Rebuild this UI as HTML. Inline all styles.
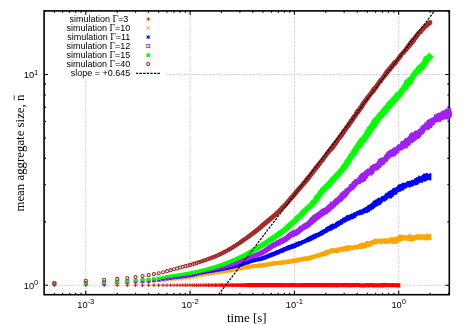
<!DOCTYPE html>
<html><head><meta charset="utf-8"><title>mean aggregate size</title>
<style>
html,body{margin:0;padding:0;background:#fff;}
body{width:463px;height:324px;overflow:hidden;}
svg{display:block;will-change:transform;}
.s{font-family:"Liberation Sans",sans-serif;font-size:9px;fill:#000;}
.g{font-family:"Liberation Serif",serif;font-size:9.5px;}
.t{font-family:"Liberation Serif",serif;font-size:12.85px;fill:#000;}
</style></head><body>
<svg width="463" height="324" viewBox="0 0 463 324">
<rect width="463" height="324" fill="#fff"/>
<path d="M85.80 10.90V294.70M190.10 10.90V294.70M294.40 10.90V294.70M398.70 10.90V294.70M44.10 285.30H449.30M44.10 74.50H449.30" stroke="#b0b0b0" stroke-width="0.9" stroke-dasharray="1 1.5" fill="none"/>
<rect x="45" y="13" width="121" height="65" fill="#fff"/>
<path d="M54.40 294.70v-1.9M54.40 10.90v1.9M62.66 294.70v-1.9M62.66 10.90v1.9M69.64 294.70v-1.9M69.64 10.90v1.9M75.69 294.70v-1.9M75.69 10.90v1.9M81.03 294.70v-1.9M81.03 10.90v1.9M85.80 294.70v-3.9M85.80 10.90v3.9M117.20 294.70v-1.9M117.20 10.90v1.9M135.56 294.70v-1.9M135.56 10.90v1.9M148.59 294.70v-1.9M148.59 10.90v1.9M158.70 294.70v-1.9M158.70 10.90v1.9M166.96 294.70v-1.9M166.96 10.90v1.9M173.94 294.70v-1.9M173.94 10.90v1.9M179.99 294.70v-1.9M179.99 10.90v1.9M185.33 294.70v-1.9M185.33 10.90v1.9M190.10 294.70v-3.9M190.10 10.90v3.9M221.50 294.70v-1.9M221.50 10.90v1.9M239.86 294.70v-1.9M239.86 10.90v1.9M252.89 294.70v-1.9M252.89 10.90v1.9M263.00 294.70v-1.9M263.00 10.90v1.9M271.26 294.70v-1.9M271.26 10.90v1.9M278.24 294.70v-1.9M278.24 10.90v1.9M284.29 294.70v-1.9M284.29 10.90v1.9M289.63 294.70v-1.9M289.63 10.90v1.9M294.40 294.70v-3.9M294.40 10.90v3.9M325.80 294.70v-1.9M325.80 10.90v1.9M344.16 294.70v-1.9M344.16 10.90v1.9M357.19 294.70v-1.9M357.19 10.90v1.9M367.30 294.70v-1.9M367.30 10.90v1.9M375.56 294.70v-1.9M375.56 10.90v1.9M382.54 294.70v-1.9M382.54 10.90v1.9M388.59 294.70v-1.9M388.59 10.90v1.9M393.93 294.70v-1.9M393.93 10.90v1.9M398.70 294.70v-3.9M398.70 10.90v3.9M430.10 294.70v-1.9M430.10 10.90v1.9M448.46 294.70v-1.9M448.46 10.90v1.9M44.10 285.30h3.9M449.30 285.30h-3.9M44.10 221.84h1.9M449.30 221.84h-1.9M44.10 184.72h1.9M449.30 184.72h-1.9M44.10 158.39h1.9M449.30 158.39h-1.9M44.10 137.96h1.9M449.30 137.96h-1.9M44.10 121.27h1.9M449.30 121.27h-1.9M44.10 107.15h1.9M449.30 107.15h-1.9M44.10 94.93h1.9M449.30 94.93h-1.9M44.10 84.15h1.9M449.30 84.15h-1.9M44.10 74.50h3.9M449.30 74.50h-3.9M44.10 11.04h1.9M449.30 11.04h-1.9" stroke="#000" stroke-width="1.1" fill="none"/><rect x="44.10" y="10.90" width="405.20" height="283.80" stroke="#000" stroke-width="1.6" fill="none"/>
<g>
<path d="M246.8 287.3L247.3 287.3L247.7 287.3L248.2 287.3L248.6 287.3L249.1 287.3L249.5 287.3L250.0 287.3L250.4 287.3L250.9 287.3L251.3 287.3L251.8 287.3L252.2 287.3L252.7 287.3L253.1 287.3L253.6 287.3L254.0 287.3L254.5 287.3L254.9 287.3L255.4 287.3L255.8 287.3L256.3 287.3L256.7 287.3L257.2 287.3L257.6 287.3L258.1 287.3L258.5 287.3L259.0 287.3L259.4 287.3L259.9 287.3L260.3 287.3L260.8 287.3L261.2 287.3L261.7 287.3L262.1 287.3L262.6 287.3L263.0 287.3L263.5 287.3L263.9 287.3L264.4 287.3L264.8 287.3L265.3 287.3L265.7 287.3L266.2 287.3L266.6 287.3L267.1 287.3L267.5 287.3L268.0 287.3L268.4 287.3L268.9 287.3L269.3 287.3L269.8 287.3L270.2 287.3L270.7 287.3L271.1 287.3L271.6 287.3L272.0 287.3L272.5 287.3L272.9 287.3L273.4 287.3L273.8 287.3L274.3 287.3L274.7 287.3L275.2 287.3L275.6 287.3L276.1 287.3L276.5 287.2L277.0 287.3L277.4 287.2L277.9 287.2L278.3 287.3L278.8 287.3L279.2 287.3L279.7 287.3L280.1 287.3L280.6 287.3L281.0 287.3L281.5 287.3L281.9 287.3L282.4 287.3L282.8 287.3L283.3 287.3L283.7 287.3L284.2 287.3L284.6 287.3L285.1 287.3L285.5 287.3L286.0 287.3L286.4 287.3L286.9 287.3L287.3 287.3L287.8 287.3L288.2 287.3L288.7 287.2L289.1 287.2L289.6 287.2L290.0 287.2L290.5 287.2L290.9 287.2L291.4 287.3L291.8 287.3L292.3 287.2L292.7 287.2L293.2 287.3L293.6 287.3L294.1 287.3L294.5 287.3L295.0 287.3L295.4 287.3L295.9 287.2L296.3 287.2L296.8 287.3L297.2 287.2L297.7 287.3L298.1 287.3L298.6 287.3L299.0 287.3L299.5 287.3L299.9 287.3L300.4 287.2L300.8 287.2L301.3 287.2L301.7 287.2L302.2 287.2L302.6 287.2L303.1 287.2L303.5 287.2L304.0 287.2L304.4 287.3L304.9 287.2L305.3 287.2L305.8 287.3L306.2 287.3L306.7 287.3L307.1 287.2L307.6 287.2L308.0 287.2L308.5 287.3L308.9 287.3L309.4 287.2L309.8 287.2L310.3 287.2L310.7 287.2L311.2 287.3L311.6 287.3L312.1 287.3L312.5 287.3L313.0 287.3L313.4 287.3L313.9 287.3L314.3 287.3L314.8 287.3L315.2 287.3L315.7 287.2L316.1 287.3L316.6 287.3L317.0 287.3L317.5 287.2L317.9 287.3L318.4 287.3L318.8 287.2L319.3 287.2L319.7 287.2L320.2 287.2L320.6 287.2L321.1 287.3L321.5 287.2L322.0 287.2L322.4 287.2L322.9 287.2L323.3 287.2L323.8 287.1L324.2 287.2L324.7 287.2L325.1 287.2L325.6 287.2L326.0 287.2L326.5 287.2L326.9 287.2L327.4 287.2L327.8 287.2L328.3 287.2L328.7 287.3L329.2 287.3L329.6 287.3L330.1 287.3L330.5 287.2L331.0 287.2L331.4 287.3L331.9 287.3L332.3 287.3L332.8 287.3L333.2 287.4L333.7 287.4L334.1 287.4L334.6 287.3L335.0 287.3L335.5 287.3L335.9 287.3L336.4 287.4L336.8 287.4L337.3 287.5L337.7 287.4L338.2 287.2L338.6 287.2L339.1 287.2L339.5 287.2L340.0 287.2L340.4 287.2L340.9 287.1L341.3 287.1L341.8 287.2L342.2 287.3L342.7 287.3L343.1 287.3L343.6 287.2L344.0 287.2L344.5 287.3L344.9 287.2L345.4 287.2L345.8 287.3L346.3 287.3L346.7 287.3L347.2 287.3L347.6 287.2L348.1 287.2L348.5 287.3L349.0 287.3L349.4 287.3L349.9 287.4L350.3 287.4L350.8 287.4L351.2 287.3L351.7 287.3L352.1 287.3L352.6 287.2L353.0 287.1L353.5 287.2L353.9 287.2L354.4 287.2L354.8 287.2L355.3 287.2L355.7 287.3L356.2 287.2L356.6 287.0L357.1 287.0L357.5 287.0L358.0 287.0L358.4 287.2L358.9 287.4L359.3 287.3L359.8 287.2L360.2 287.3L360.7 287.4L361.1 287.4L361.6 287.4L362.0 287.4L362.5 287.4L362.9 287.5L363.4 287.5L363.8 287.4L364.3 287.4L364.7 287.4L365.2 287.4L365.6 287.4L366.1 287.3L366.5 287.3L367.0 287.3L367.4 287.3L367.9 287.5L368.3 287.5L368.8 287.4L369.2 287.3L369.7 287.2L370.1 287.1L370.6 287.2L371.0 287.3L371.5 287.2L371.9 287.2L372.4 287.2L372.8 287.3L373.3 287.4L373.7 287.4L374.2 287.4L374.6 287.4L375.1 287.3L375.5 287.2L376.0 287.2L376.4 287.4L376.9 287.4L377.3 287.4L377.8 287.4L378.2 287.3L378.7 287.3L379.1 287.3L379.6 287.3L380.0 287.4L380.5 287.6L380.9 287.5L381.4 287.5L381.8 287.4L382.3 287.4L382.7 287.5L383.2 287.5L383.6 287.4L384.1 287.2L384.5 287.2L385.0 287.2L385.4 287.3L385.9 287.2L386.3 287.2L386.8 287.2L387.2 287.2L387.7 287.1L388.1 287.1L388.6 287.2L389.0 287.3L389.5 287.3L389.9 287.3L390.4 287.4L390.8 287.3L391.3 287.2L391.7 287.2L392.2 287.2L392.6 287.2L393.1 287.3L393.5 287.4L394.0 287.3L394.4 287.2L394.9 287.3L395.3 287.3L395.8 287.3L396.2 287.3L396.7 287.5L397.1 287.5L397.6 287.6L398.0 287.7L398.5 287.6L398.9 287.6L399.4 287.6L399.8 287.5L400.3 287.3L400.3 282.9L399.8 283.0L399.4 283.1L398.9 283.2L398.5 283.2L398.0 283.2L397.6 283.2L397.1 283.1L396.7 283.0L396.2 283.1L395.8 283.2L395.3 283.2L394.9 283.1L394.4 283.2L394.0 283.3L393.5 283.2L393.1 283.0L392.6 282.9L392.2 283.0L391.7 283.2L391.3 283.1L390.8 283.1L390.4 283.1L389.9 283.1L389.5 283.2L389.0 283.3L388.6 283.1L388.1 283.1L387.7 283.1L387.2 283.1L386.8 283.1L386.3 283.1L385.9 283.1L385.4 282.9L385.0 282.8L384.5 282.9L384.1 283.0L383.6 283.0L383.2 283.0L382.7 283.1L382.3 283.1L381.8 283.0L381.4 283.0L380.9 283.1L380.5 283.2L380.0 283.2L379.6 283.2L379.1 283.2L378.7 283.1L378.2 283.1L377.8 283.2L377.3 283.2L376.9 283.2L376.4 283.3L376.0 283.3L375.5 283.3L375.1 283.2L374.6 283.2L374.2 283.1L373.7 283.1L373.3 283.2L372.8 283.2L372.4 283.1L371.9 283.0L371.5 283.0L371.0 283.0L370.6 283.1L370.1 283.1L369.7 283.1L369.2 283.2L368.8 283.1L368.3 283.1L367.9 283.1L367.4 283.1L367.0 283.1L366.5 283.1L366.1 283.2L365.6 283.2L365.2 283.1L364.7 283.2L364.3 283.2L363.8 283.2L363.4 283.2L362.9 283.2L362.5 283.2L362.0 283.2L361.6 283.3L361.1 283.3L360.7 283.3L360.2 283.2L359.8 283.2L359.3 283.1L358.9 283.1L358.4 283.1L358.0 283.1L357.5 283.1L357.1 283.1L356.6 283.0L356.2 283.0L355.7 282.9L355.3 282.9L354.8 283.0L354.4 283.0L353.9 282.9L353.5 283.0L353.0 283.1L352.6 283.1L352.1 283.0L351.7 282.9L351.2 283.0L350.8 283.1L350.3 283.1L349.9 283.0L349.4 283.0L349.0 283.0L348.5 283.0L348.1 283.1L347.6 283.1L347.2 283.1L346.7 283.1L346.3 283.1L345.8 283.1L345.4 283.1L344.9 283.1L344.5 283.1L344.0 283.1L343.6 283.1L343.1 283.1L342.7 283.1L342.2 283.1L341.8 283.0L341.3 283.0L340.9 283.1L340.4 283.1L340.0 283.0L339.5 283.0L339.1 283.1L338.6 283.1L338.2 283.1L337.7 283.1L337.3 283.1L336.8 283.1L336.4 283.1L335.9 283.1L335.5 283.0L335.0 283.0L334.6 283.0L334.1 283.0L333.7 283.0L333.2 283.1L332.8 283.1L332.3 283.0L331.9 283.0L331.4 283.0L331.0 283.0L330.5 283.0L330.1 283.0L329.6 283.0L329.2 283.0L328.7 283.0L328.3 283.0L327.8 283.0L327.4 283.0L326.9 283.1L326.5 283.1L326.0 283.1L325.6 283.0L325.1 282.9L324.7 283.0L324.2 283.1L323.8 283.1L323.3 283.1L322.9 283.1L322.4 283.1L322.0 283.1L321.5 283.1L321.1 283.1L320.6 283.2L320.2 283.2L319.7 283.1L319.3 283.1L318.8 283.1L318.4 283.1L317.9 283.1L317.5 283.1L317.0 283.1L316.6 283.1L316.1 283.0L315.7 283.0L315.2 283.1L314.8 283.0L314.3 283.0L313.9 283.0L313.4 283.1L313.0 283.1L312.5 283.0L312.1 283.0L311.6 283.0L311.2 283.0L310.7 283.1L310.3 283.1L309.8 283.1L309.4 283.0L308.9 283.0L308.5 283.1L308.0 283.1L307.6 283.1L307.1 283.0L306.7 283.1L306.2 283.1L305.8 283.1L305.3 283.1L304.9 283.1L304.4 283.1L304.0 283.1L303.5 283.1L303.1 283.2L302.6 283.1L302.2 283.1L301.7 283.1L301.3 283.1L300.8 283.1L300.4 283.1L299.9 283.1L299.5 283.2L299.0 283.2L298.6 283.1L298.1 283.2L297.7 283.2L297.2 283.2L296.8 283.2L296.3 283.1L295.9 283.1L295.4 283.1L295.0 283.1L294.5 283.1L294.1 283.1L293.6 283.1L293.2 283.1L292.7 283.1L292.3 283.0L291.8 283.0L291.4 283.1L290.9 283.1L290.5 283.1L290.0 283.1L289.6 283.1L289.1 283.2L288.7 283.1L288.2 283.2L287.8 283.2L287.3 283.2L286.9 283.1L286.4 283.1L286.0 283.1L285.5 283.2L285.1 283.1L284.6 283.2L284.2 283.2L283.7 283.1L283.3 283.1L282.8 283.1L282.4 283.1L281.9 283.1L281.5 283.1L281.0 283.1L280.6 283.1L280.1 283.1L279.7 283.1L279.2 283.1L278.8 283.1L278.3 283.1L277.9 283.1L277.4 283.1L277.0 283.1L276.5 283.1L276.1 283.1L275.6 283.1L275.2 283.1L274.7 283.1L274.3 283.1L273.8 283.1L273.4 283.1L272.9 283.1L272.5 283.1L272.0 283.1L271.6 283.1L271.1 283.1L270.7 283.1L270.2 283.1L269.8 283.1L269.3 283.1L268.9 283.1L268.4 283.1L268.0 283.1L267.5 283.1L267.1 283.1L266.6 283.1L266.2 283.1L265.7 283.1L265.3 283.1L264.8 283.1L264.4 283.1L263.9 283.1L263.5 283.1L263.0 283.1L262.6 283.1L262.1 283.1L261.7 283.1L261.2 283.1L260.8 283.1L260.3 283.1L259.9 283.1L259.4 283.1L259.0 283.1L258.5 283.1L258.1 283.1L257.6 283.1L257.2 283.1L256.7 283.1L256.3 283.1L255.8 283.1L255.4 283.1L254.9 283.1L254.5 283.1L254.0 283.1L253.6 283.1L253.1 283.1L252.7 283.1L252.2 283.1L251.8 283.1L251.3 283.1L250.9 283.1L250.4 283.1L250.0 283.1L249.5 283.1L249.1 283.1L248.6 283.1L248.2 283.1L247.7 283.1L247.3 283.1L246.8 283.1Z" fill="#ff0000"/>
<path d="M52.55 285.20H56.25M54.40 283.35V287.05" stroke="#ff0000" stroke-width="1" fill="none"/>
<path d="M83.95 285.20H87.65M85.80 283.35V287.05" stroke="#ff0000" stroke-width="1" fill="none"/>
<path d="M102.32 285.20H106.02M104.17 283.35V287.05" stroke="#ff0000" stroke-width="1" fill="none"/>
<path d="M115.35 285.20H119.05M117.20 283.35V287.05" stroke="#ff0000" stroke-width="1" fill="none"/>
<path d="M125.46 285.20H129.16M127.31 283.35V287.05" stroke="#ff0000" stroke-width="1" fill="none"/>
<path d="M133.71 285.20H137.41M135.56 283.35V287.05" stroke="#ff0000" stroke-width="1" fill="none"/>
<path d="M140.70 285.20H144.40M142.55 283.35V287.05" stroke="#ff0000" stroke-width="1" fill="none"/>
<path d="M146.74 285.20H150.44M148.59 283.35V287.05" stroke="#ff0000" stroke-width="1" fill="none"/>
<path d="M152.08 285.20H155.78M153.93 283.35V287.05" stroke="#ff0000" stroke-width="1" fill="none"/>
<path d="M156.85 285.20H160.55M158.70 283.35V287.05" stroke="#ff0000" stroke-width="1" fill="none"/>
<path d="M161.17 285.20H164.87M163.02 283.35V287.05" stroke="#ff0000" stroke-width="1" fill="none"/>
<path d="M165.11 285.20H168.81M166.96 283.35V287.05" stroke="#ff0000" stroke-width="1" fill="none"/>
<path d="M168.74 285.20H172.44M170.59 283.35V287.05" stroke="#ff0000" stroke-width="1" fill="none"/>
<path d="M172.09 285.20H175.79M173.94 283.35V287.05" stroke="#ff0000" stroke-width="1" fill="none"/>
<path d="M175.22 285.20H178.92M177.07 283.35V287.05" stroke="#ff0000" stroke-width="1" fill="none"/>
<path d="M178.14 285.20H181.84M179.99 283.35V287.05" stroke="#ff0000" stroke-width="1" fill="none"/>
<path d="M180.89 285.20H184.59M182.74 283.35V287.05" stroke="#ff0000" stroke-width="1" fill="none"/>
<path d="M183.48 285.20H187.18M185.33 283.35V287.05" stroke="#ff0000" stroke-width="1" fill="none"/>
<path d="M185.93 285.20H189.63M187.78 283.35V287.05" stroke="#ff0000" stroke-width="1" fill="none"/>
<path d="M188.25 285.20H191.95M190.10 283.35V287.05" stroke="#ff0000" stroke-width="1" fill="none"/>
<path d="M190.46 285.20H194.16M192.31 283.35V287.05" stroke="#ff0000" stroke-width="1" fill="none"/>
<path d="M192.57 285.20H196.27M194.42 283.35V287.05" stroke="#ff0000" stroke-width="1" fill="none"/>
<path d="M194.58 285.20H198.28M196.43 283.35V287.05" stroke="#ff0000" stroke-width="1" fill="none"/>
<path d="M196.51 285.20H200.21M198.36 283.35V287.05" stroke="#ff0000" stroke-width="1" fill="none"/>
<path d="M198.36 285.20H202.06M200.21 283.35V287.05" stroke="#ff0000" stroke-width="1" fill="none"/>
<path d="M200.13 285.20H203.83M201.98 283.35V287.05" stroke="#ff0000" stroke-width="1" fill="none"/>
<path d="M201.84 285.20H205.54M203.69 283.35V287.05" stroke="#ff0000" stroke-width="1" fill="none"/>
<path d="M203.49 285.20H207.19M205.34 283.35V287.05" stroke="#ff0000" stroke-width="1" fill="none"/>
<path d="M205.08 285.20H208.78M206.93 283.35V287.05" stroke="#ff0000" stroke-width="1" fill="none"/>
<path d="M206.62 285.20H210.32M208.47 283.35V287.05" stroke="#ff0000" stroke-width="1" fill="none"/>
<path d="M208.10 285.20H211.80M209.95 283.35V287.05" stroke="#ff0000" stroke-width="1" fill="none"/>
<path d="M209.54 285.20H213.24M211.39 283.35V287.05" stroke="#ff0000" stroke-width="1" fill="none"/>
<path d="M210.93 285.20H214.63M212.78 283.35V287.05" stroke="#ff0000" stroke-width="1" fill="none"/>
<path d="M212.29 285.20H215.99M214.14 283.35V287.05" stroke="#ff0000" stroke-width="1" fill="none"/>
<path d="M213.60 285.20H217.30M215.45 283.35V287.05" stroke="#ff0000" stroke-width="1" fill="none"/>
<path d="M214.87 285.20H218.57M216.72 283.35V287.05" stroke="#ff0000" stroke-width="1" fill="none"/>
<path d="M216.12 285.20H219.82M217.97 283.35V287.05" stroke="#ff0000" stroke-width="1" fill="none"/>
<path d="M217.32 285.20H221.02M219.17 283.35V287.05" stroke="#ff0000" stroke-width="1" fill="none"/>
<path d="M218.50 285.20H222.20M220.35 283.35V287.05" stroke="#ff0000" stroke-width="1" fill="none"/>
<path d="M219.65 285.20H223.35M221.50 283.35V287.05" stroke="#ff0000" stroke-width="1" fill="none"/>
<path d="M220.77 285.20H224.47M222.62 283.35V287.05" stroke="#ff0000" stroke-width="1" fill="none"/>
<path d="M221.86 285.20H225.56M223.71 283.35V287.05" stroke="#ff0000" stroke-width="1" fill="none"/>
<path d="M222.92 285.20H226.62M224.77 283.35V287.05" stroke="#ff0000" stroke-width="1" fill="none"/>
<path d="M223.96 285.20H227.66M225.81 283.35V287.05" stroke="#ff0000" stroke-width="1" fill="none"/>
<path d="M224.98 285.20H228.68M226.83 283.35V287.05" stroke="#ff0000" stroke-width="1" fill="none"/>
<path d="M225.98 285.20H229.68M227.83 283.35V287.05" stroke="#ff0000" stroke-width="1" fill="none"/>
<path d="M226.95 285.20H230.65M228.80 283.35V287.05" stroke="#ff0000" stroke-width="1" fill="none"/>
<path d="M227.91 285.20H231.61M229.76 283.35V287.05" stroke="#ff0000" stroke-width="1" fill="none"/>
<path d="M228.84 285.20H232.54M230.69 283.35V287.05" stroke="#ff0000" stroke-width="1" fill="none"/>
<path d="M229.76 285.20H233.46M231.61 283.35V287.05" stroke="#ff0000" stroke-width="1" fill="none"/>
<path d="M230.65 285.20H234.35M232.50 283.35V287.05" stroke="#ff0000" stroke-width="1" fill="none"/>
<path d="M231.53 285.20H235.23M233.38 283.35V287.05" stroke="#ff0000" stroke-width="1" fill="none"/>
<path d="M232.39 285.20H236.09M234.24 283.35V287.05" stroke="#ff0000" stroke-width="1" fill="none"/>
<path d="M233.24 285.20H236.94M235.09 283.35V287.05" stroke="#ff0000" stroke-width="1" fill="none"/>
<path d="M234.07 285.20H237.77M235.92 283.35V287.05" stroke="#ff0000" stroke-width="1" fill="none"/>
<path d="M234.89 285.20H238.59M236.74 283.35V287.05" stroke="#ff0000" stroke-width="1" fill="none"/>
<path d="M235.69 285.20H239.39M237.54 283.35V287.05" stroke="#ff0000" stroke-width="1" fill="none"/>
<path d="M236.48 285.20H240.18M238.33 283.35V287.05" stroke="#ff0000" stroke-width="1" fill="none"/>
<path d="M237.25 285.20H240.95M239.10 283.35V287.05" stroke="#ff0000" stroke-width="1" fill="none"/>
<path d="M238.01 285.20H241.71M239.86 283.35V287.05" stroke="#ff0000" stroke-width="1" fill="none"/>
<path d="M238.76 285.20H242.46M240.61 283.35V287.05" stroke="#ff0000" stroke-width="1" fill="none"/>
<path d="M239.50 285.20H243.20M241.35 283.35V287.05" stroke="#ff0000" stroke-width="1" fill="none"/>
<path d="M240.22 285.20H243.92M242.07 283.35V287.05" stroke="#ff0000" stroke-width="1" fill="none"/>
<path d="M240.94 285.20H244.64M242.79 283.35V287.05" stroke="#ff0000" stroke-width="1" fill="none"/>
<path d="M241.64 285.20H245.34M243.49 283.35V287.05" stroke="#ff0000" stroke-width="1" fill="none"/>
<path d="M242.33 285.20H246.03M244.18 283.35V287.05" stroke="#ff0000" stroke-width="1" fill="none"/>
<path d="M243.01 285.20H246.71M244.86 283.35V287.05" stroke="#ff0000" stroke-width="1" fill="none"/>
<path d="M243.68 285.20H247.38M245.53 283.35V287.05" stroke="#ff0000" stroke-width="1" fill="none"/>
<path d="M244.34 285.20H248.04M246.19 283.35V287.05" stroke="#ff0000" stroke-width="1" fill="none"/>
<path d="M245.00 285.20H248.70M246.85 283.35V287.05" stroke="#ff0000" stroke-width="1" fill="none"/>
</g>
<g>
<path d="M247.3 269.3L247.7 269.2L248.1 269.2L248.6 269.0L249.0 268.9L249.5 268.9L249.9 268.9L250.4 268.8L250.8 268.7L251.2 268.6L251.7 268.6L252.1 268.5L252.5 268.4L253.0 268.4L253.4 268.4L253.8 268.3L254.3 268.3L254.7 268.3L255.1 268.2L255.6 268.1L256.0 268.0L256.5 268.0L256.9 268.0L257.4 268.0L257.8 267.9L258.3 267.9L258.7 267.8L259.2 267.8L259.6 267.8L260.1 267.8L260.6 267.8L261.0 267.8L261.5 267.7L262.0 267.6L262.4 267.6L262.9 267.6L263.4 267.6L263.9 267.6L264.3 267.5L264.8 267.3L265.2 267.2L265.7 267.0L266.1 266.9L266.6 266.9L267.0 266.8L267.5 266.8L267.9 266.7L268.4 266.6L268.8 266.4L269.3 266.4L269.7 266.4L270.2 266.3L270.6 266.3L271.1 266.2L271.5 266.1L271.9 265.9L272.4 266.0L272.8 265.9L273.3 265.8L273.7 265.8L274.2 265.8L274.6 265.7L275.0 265.6L275.5 265.5L275.9 265.4L276.4 265.3L276.8 265.2L277.2 265.1L277.7 265.1L278.1 265.1L278.6 265.1L279.0 265.1L279.5 265.0L280.0 265.2L280.4 265.2L280.9 265.0L281.3 264.9L281.8 264.9L282.2 264.9L282.7 264.7L283.1 264.6L283.6 264.7L284.0 264.7L284.5 264.4L284.9 264.3L285.4 264.3L285.8 264.2L286.3 264.1L286.7 264.0L287.2 264.0L287.7 264.1L288.1 264.0L288.6 263.9L289.0 263.9L289.5 263.9L290.0 263.9L290.4 263.8L290.9 263.7L291.3 263.6L291.8 263.6L292.2 263.4L292.6 263.2L293.1 263.2L293.6 263.2L294.0 263.3L294.5 263.3L294.9 263.0L295.4 262.9L295.9 263.0L296.3 263.0L296.8 262.9L297.2 262.7L297.6 262.4L298.1 262.3L298.6 262.5L299.0 262.4L299.4 262.1L299.9 262.0L300.3 261.8L300.8 261.8L301.3 262.0L301.7 261.7L302.1 261.4L302.6 261.4L303.0 261.5L303.5 261.5L303.9 261.2L304.4 261.1L304.8 261.0L305.2 260.8L305.7 260.8L306.2 261.0L306.7 261.0L307.2 261.0L307.7 261.1L308.1 261.0L308.6 260.9L309.1 261.0L309.5 260.8L310.0 260.5L310.4 260.5L310.9 260.3L311.3 260.1L311.8 260.0L312.2 259.7L312.6 259.4L313.1 259.4L313.6 259.3L314.0 259.0L314.4 258.7L314.9 258.7L315.4 258.7L315.9 258.5L316.3 258.4L316.8 258.3L317.2 258.1L317.7 258.1L318.3 258.2L318.7 257.9L319.1 257.8L319.6 257.8L320.0 257.5L320.5 257.3L321.0 257.4L321.4 257.2L321.8 256.7L322.2 256.5L322.8 256.6L323.2 256.5L323.7 256.4L324.2 256.4L324.7 256.3L325.1 256.1L325.6 256.0L326.1 255.9L326.4 255.5L326.9 255.5L327.4 255.6L327.8 255.2L328.1 254.8L328.5 254.5L329.0 254.3L329.4 254.3L329.9 254.3L330.2 253.9L330.7 253.8L331.2 253.8L331.5 253.5L331.9 253.3L332.4 253.1L332.8 253.0L333.3 253.3L333.9 253.6L334.3 253.3L334.7 253.0L335.1 253.0L335.6 253.1L336.1 253.2L336.6 253.3L337.1 253.5L337.5 253.4L337.9 253.2L338.4 253.1L338.8 252.7L339.1 252.4L339.6 252.3L340.0 252.3L340.4 251.9L340.9 251.7L341.4 251.9L341.8 251.8L342.2 251.6L342.7 251.6L343.2 251.7L343.6 251.7L344.0 251.3L344.5 251.4L345.0 251.6L345.4 251.7L345.8 251.4L346.3 251.2L346.7 251.1L347.2 251.3L347.6 251.3L348.0 251.1L348.5 251.3L349.0 251.2L349.4 250.9L349.8 250.7L350.2 250.3L350.6 249.9L351.1 250.0L351.6 250.3L352.1 250.3L352.5 250.3L353.0 250.1L353.4 249.8L353.9 249.9L354.3 249.7L354.8 249.6L355.2 249.5L355.6 249.2L356.1 249.0L356.6 249.2L357.1 249.4L357.6 249.6L358.1 249.4L358.5 249.0L359.0 248.9L359.5 249.0L359.9 249.0L360.4 248.8L360.9 249.1L361.4 249.0L361.8 248.7L362.4 249.0L362.9 249.0L363.4 248.9L363.8 248.7L364.2 248.6L364.7 248.6L365.2 248.4L365.6 248.0L366.0 247.9L366.4 247.7L366.8 247.3L367.2 247.0L367.7 247.1L368.2 247.2L368.7 247.1L369.2 247.3L369.7 247.4L370.1 246.9L370.5 246.4L371.1 246.5L371.6 246.6L372.0 246.1L372.3 245.5L372.7 245.0L373.2 245.0L373.7 245.0L374.0 244.6L374.4 244.3L374.8 244.3L375.3 244.5L375.7 244.4L376.0 244.0L376.4 244.2L376.9 244.6L377.1 244.1L377.5 243.6L378.0 243.5L378.4 243.6L378.9 244.3L379.3 244.5L379.7 243.6L380.2 243.4L380.7 244.1L381.1 244.6L381.6 244.5L382.0 244.3L382.4 243.7L382.8 243.3L383.3 242.9L383.7 243.0L384.2 243.5L384.6 243.9L385.1 244.2L385.5 243.9L386.0 243.6L386.5 244.2L386.9 244.6L387.3 243.9L387.8 243.3L388.2 243.7L388.7 244.0L389.1 243.4L389.6 243.3L390.0 243.7L390.5 243.5L390.9 243.2L391.3 243.3L391.8 243.5L392.3 243.8L392.7 244.1L393.2 244.3L393.6 243.9L394.1 243.4L394.5 243.7L395.0 244.1L395.5 244.1L396.1 244.0L396.9 243.4L397.9 243.0L398.9 242.8L399.2 242.0L399.6 241.6L400.3 241.9L400.4 241.9L400.2 241.6L400.3 241.4L400.6 241.2L401.0 241.3L401.5 241.5L401.9 241.2L402.3 240.7L402.8 240.8L403.2 240.5L403.6 240.4L404.1 240.7L404.6 240.4L405.0 240.3L405.5 240.8L405.9 240.6L406.4 240.5L406.9 241.0L407.3 241.2L407.8 241.0L408.2 240.9L408.6 241.0L409.1 241.1L409.5 240.9L410.0 241.1L410.5 241.7L410.9 241.5L411.4 241.7L411.8 242.1L412.3 241.7L412.7 241.1L413.1 241.1L413.5 241.0L414.0 241.5L414.4 241.5L414.8 240.6L415.3 240.2L415.7 240.3L416.1 240.0L416.6 239.9L417.0 239.8L417.5 239.4L417.9 239.5L418.4 240.0L418.8 240.3L419.3 240.4L419.7 240.3L420.2 240.5L420.6 240.3L421.1 239.8L421.5 239.3L421.9 239.4L422.4 239.6L422.9 239.6L423.3 239.9L423.8 240.4L424.3 240.8L424.7 240.6L425.2 240.0L425.6 239.8L426.1 240.3L426.6 240.5L427.0 240.5L427.5 240.4L428.0 240.5L428.5 240.6L429.0 240.3L429.4 240.1L429.9 239.9L430.3 239.7L430.8 239.8L431.3 239.8L431.7 239.8L431.0 233.7L430.5 233.7L430.1 234.0L429.6 233.8L429.2 233.9L428.8 234.5L428.4 234.4L427.9 234.0L427.5 233.7L427.1 233.4L426.7 233.4L426.2 233.6L425.8 234.0L425.4 234.4L424.9 234.6L424.5 234.6L424.1 234.5L423.6 234.5L423.2 234.2L422.7 234.2L422.3 234.1L421.8 233.9L421.4 234.5L420.9 234.8L420.5 234.6L420.0 234.6L419.6 234.4L419.1 233.6L418.7 233.7L418.2 234.5L417.8 234.7L417.3 234.4L416.8 234.1L416.4 234.0L415.9 234.2L415.5 234.6L415.1 235.2L414.6 235.5L414.1 235.2L413.7 235.0L413.2 235.1L412.8 235.2L412.3 235.2L411.8 235.2L411.4 235.2L410.9 234.9L410.4 234.3L409.9 233.5L409.4 233.1L409.0 233.8L408.6 234.6L408.1 234.9L407.7 235.3L407.3 235.5L406.8 235.5L406.4 235.6L405.9 235.2L405.4 234.7L404.9 234.9L404.5 235.3L404.1 235.3L403.5 234.6L403.1 235.0L402.7 235.6L402.2 235.2L401.7 234.8L401.3 234.6L400.8 234.6L400.3 234.6L399.7 234.5L399.2 234.6L398.4 235.3L397.4 235.9L396.5 236.4L395.9 236.8L395.3 237.0L395.3 237.6L395.6 238.5L395.7 238.4L395.5 237.7L395.2 237.3L394.7 237.0L394.3 237.0L393.9 237.2L393.4 236.8L393.0 236.7L392.6 237.5L392.1 237.7L391.7 237.3L391.2 237.4L390.8 237.0L390.3 236.6L389.8 237.1L389.4 237.9L389.0 238.6L388.5 238.5L388.0 237.9L387.6 237.9L387.1 238.1L386.7 238.4L386.3 238.6L385.8 238.4L385.3 238.3L384.9 238.2L384.4 238.3L384.0 238.6L383.5 238.5L383.1 238.5L382.6 238.7L382.2 238.4L381.7 238.3L381.3 238.6L380.8 238.7L380.3 238.5L379.9 238.1L379.4 238.4L379.0 239.0L378.5 238.9L378.0 238.5L377.6 238.5L377.1 238.8L376.6 238.9L376.0 238.4L375.4 238.3L374.9 238.7L374.4 238.9L373.8 238.8L373.4 239.4L373.0 239.9L372.4 239.8L371.9 239.8L371.5 240.2L371.1 240.4L370.7 240.7L370.3 241.1L369.8 240.9L369.3 240.9L369.0 241.3L368.6 241.4L368.1 241.2L367.6 241.0L367.0 240.8L366.5 240.9L366.1 241.1L365.7 241.3L365.4 241.9L365.1 242.7L364.6 242.7L364.1 242.4L363.6 242.4L363.2 242.8L362.7 242.6L362.1 242.2L361.7 242.5L361.3 242.9L360.9 243.1L360.5 243.2L360.0 243.2L359.6 243.4L359.1 243.4L358.7 243.5L358.4 244.1L358.0 244.6L357.6 244.7L357.1 244.6L356.7 244.7L356.2 244.7L355.8 244.6L355.3 244.8L354.9 244.7L354.5 244.8L354.1 245.3L353.6 245.3L353.2 245.3L352.8 245.5L352.3 245.7L351.9 245.7L351.4 245.5L350.9 245.1L350.4 245.1L350.0 245.3L349.6 245.4L349.1 245.4L348.6 245.1L348.1 245.1L347.7 245.2L347.2 245.1L346.8 245.2L346.3 245.5L345.9 245.7L345.5 246.0L345.0 246.1L344.5 245.9L344.0 246.0L343.6 245.9L343.1 245.9L342.7 246.6L342.3 246.7L341.8 246.6L341.4 246.8L340.9 246.8L340.4 246.8L340.0 247.0L339.5 246.9L339.0 246.9L338.6 247.2L338.2 247.5L337.8 247.6L337.2 247.4L336.8 247.6L336.4 248.1L335.9 248.0L335.4 247.8L335.0 248.0L334.6 248.4L334.1 248.1L333.5 247.7L333.0 247.8L332.6 248.1L332.2 248.3L331.6 248.1L331.1 248.0L330.7 248.4L330.3 248.8L329.8 248.9L329.3 248.9L328.8 249.0L328.5 249.6L328.0 249.6L327.4 249.4L327.0 249.6L326.5 249.8L326.1 250.0L325.6 250.1L325.2 250.3L324.7 250.6L324.3 250.9L323.9 251.1L323.4 251.2L323.0 251.3L322.6 251.6L322.1 251.7L321.7 251.9L321.2 252.1L320.8 252.2L320.3 252.3L319.9 252.6L319.5 252.7L319.1 252.9L318.7 253.2L318.2 253.3L317.7 253.2L317.2 253.1L316.7 253.3L316.3 253.6L315.9 253.9L315.4 253.9L315.0 254.1L314.6 254.3L314.2 254.5L313.7 254.6L313.2 254.6L312.8 254.7L312.4 254.8L311.9 255.0L311.5 255.2L311.0 255.0L310.6 255.0L310.2 255.2L309.7 255.3L309.3 255.5L308.9 255.9L308.5 255.8L308.0 255.9L307.6 256.2L307.2 256.3L306.7 256.4L306.3 256.3L305.8 256.1L305.3 256.1L304.9 256.3L304.4 256.4L304.0 256.6L303.5 256.5L303.1 256.6L302.7 256.7L302.2 256.9L301.8 257.1L301.3 257.1L300.9 257.0L300.4 257.2L300.0 257.5L299.6 257.6L299.1 257.6L298.6 257.5L298.2 257.6L297.7 257.7L297.3 257.8L296.8 257.8L296.4 257.8L295.9 258.0L295.5 258.3L295.1 258.5L294.6 258.4L294.1 258.3L293.7 258.3L293.2 258.2L292.8 258.4L292.4 258.7L291.9 258.8L291.5 258.8L291.0 258.9L290.6 259.2L290.2 259.2L289.7 259.1L289.2 259.2L288.8 259.3L288.4 259.5L287.9 259.5L287.5 259.6L287.0 259.6L286.6 259.7L286.2 259.8L285.7 260.0L285.3 260.2L284.8 260.2L284.4 260.3L284.0 260.3L283.5 260.2L283.0 260.2L282.6 260.3L282.1 260.3L281.7 260.4L281.3 260.4L280.8 260.4L280.3 260.4L279.9 260.5L279.5 260.6L279.0 260.7L278.6 260.8L278.1 260.8L277.7 260.8L277.2 260.9L276.8 261.0L276.3 261.0L275.8 261.1L275.4 261.1L274.9 261.2L274.5 261.2L274.0 261.1L273.5 261.1L273.1 261.2L272.6 261.4L272.2 261.5L271.7 261.5L271.2 261.5L270.8 261.6L270.3 261.7L269.9 261.8L269.4 261.9L269.0 262.0L268.5 262.1L268.1 262.3L267.7 262.5L267.2 262.5L266.7 262.4L266.2 262.3L265.8 262.3L265.3 262.4L264.9 262.6L264.5 262.8L264.1 262.9L263.6 263.0L263.2 263.1L262.7 263.1L262.3 263.1L261.9 263.2L261.4 263.3L261.0 263.4L260.6 263.3L260.1 263.3L259.7 263.3L259.2 263.3L258.8 263.4L258.4 263.5L257.9 263.5L257.5 263.5L257.0 263.6L256.6 263.7L256.1 263.7L255.7 263.8L255.2 263.9L254.8 263.9L254.3 263.9L253.8 264.0L253.4 264.1L252.9 264.1L252.4 264.2L252.0 264.2L251.5 264.3L251.0 264.4L250.6 264.4L250.1 264.5L249.6 264.6L249.2 264.7L248.7 264.7L248.3 264.8L247.8 264.9L247.3 265.0L246.9 265.1L246.4 265.2Z" fill="#ffa500"/>
<path d="M52.80 282.00L56.00 285.20M52.80 285.20L56.00 282.00" stroke="#ffa500" stroke-width="1" fill="none"/>
<path d="M84.20 282.00L87.40 285.20M84.20 285.20L87.40 282.00" stroke="#ffa500" stroke-width="1" fill="none"/>
<path d="M102.57 281.60L105.77 284.80M102.57 284.80L105.77 281.60" stroke="#ffa500" stroke-width="1" fill="none"/>
<path d="M115.60 281.18L118.80 284.38M115.60 284.38L118.80 281.18" stroke="#ffa500" stroke-width="1" fill="none"/>
<path d="M125.71 280.81L128.91 284.01M125.71 284.01L128.91 280.81" stroke="#ffa500" stroke-width="1" fill="none"/>
<path d="M133.96 280.54L137.16 283.74M133.96 283.74L137.16 280.54" stroke="#ffa500" stroke-width="1" fill="none"/>
<path d="M140.95 280.30L144.15 283.50M140.95 283.50L144.15 280.30" stroke="#ffa500" stroke-width="1" fill="none"/>
<path d="M146.99 280.04L150.19 283.24M146.99 283.24L150.19 280.04" stroke="#ffa500" stroke-width="1" fill="none"/>
<path d="M152.33 279.71L155.53 282.91M152.33 282.91L155.53 279.71" stroke="#ffa500" stroke-width="1" fill="none"/>
<path d="M157.10 279.31L160.30 282.51M157.10 282.51L160.30 279.31" stroke="#ffa500" stroke-width="1" fill="none"/>
<path d="M161.42 278.90L164.62 282.10M161.42 282.10L164.62 278.90" stroke="#ffa500" stroke-width="1" fill="none"/>
<path d="M165.36 278.50L168.56 281.70M165.36 281.70L168.56 278.50" stroke="#ffa500" stroke-width="1" fill="none"/>
<path d="M168.99 278.14L172.19 281.34M168.99 281.34L172.19 278.14" stroke="#ffa500" stroke-width="1" fill="none"/>
<path d="M172.34 277.82L175.54 281.02M172.34 281.02L175.54 277.82" stroke="#ffa500" stroke-width="1" fill="none"/>
<path d="M175.47 277.52L178.67 280.72M175.47 280.72L178.67 277.52" stroke="#ffa500" stroke-width="1" fill="none"/>
<path d="M178.39 277.23L181.59 280.43M178.39 280.43L181.59 277.23" stroke="#ffa500" stroke-width="1" fill="none"/>
<path d="M181.14 276.93L184.34 280.13M181.14 280.13L184.34 276.93" stroke="#ffa500" stroke-width="1" fill="none"/>
<path d="M183.73 276.63L186.93 279.83M183.73 279.83L186.93 276.63" stroke="#ffa500" stroke-width="1" fill="none"/>
<path d="M186.18 276.32L189.38 279.52M186.18 279.52L189.38 276.32" stroke="#ffa500" stroke-width="1" fill="none"/>
<path d="M188.50 275.98L191.70 279.18M188.50 279.18L191.70 275.98" stroke="#ffa500" stroke-width="1" fill="none"/>
<path d="M190.71 275.59L193.91 278.79M190.71 278.79L193.91 275.59" stroke="#ffa500" stroke-width="1" fill="none"/>
<path d="M192.82 275.14L196.02 278.34M192.82 278.34L196.02 275.14" stroke="#ffa500" stroke-width="1" fill="none"/>
<path d="M194.83 274.66L198.03 277.86M194.83 277.86L198.03 274.66" stroke="#ffa500" stroke-width="1" fill="none"/>
<path d="M196.76 274.20L199.96 277.40M196.76 277.40L199.96 274.20" stroke="#ffa500" stroke-width="1" fill="none"/>
<path d="M198.61 273.77L201.81 276.97M198.61 276.97L201.81 273.77" stroke="#ffa500" stroke-width="1" fill="none"/>
<path d="M200.38 273.39L203.58 276.59M200.38 276.59L203.58 273.39" stroke="#ffa500" stroke-width="1" fill="none"/>
<path d="M202.09 273.08L205.29 276.28M202.09 276.28L205.29 273.08" stroke="#ffa500" stroke-width="1" fill="none"/>
<path d="M203.74 272.80L206.94 276.00M203.74 276.00L206.94 272.80" stroke="#ffa500" stroke-width="1" fill="none"/>
<path d="M205.33 272.55L208.53 275.75M205.33 275.75L208.53 272.55" stroke="#ffa500" stroke-width="1" fill="none"/>
<path d="M206.87 272.32L210.07 275.52M206.87 275.52L210.07 272.32" stroke="#ffa500" stroke-width="1" fill="none"/>
<path d="M208.35 272.11L211.55 275.31M208.35 275.31L211.55 272.11" stroke="#ffa500" stroke-width="1" fill="none"/>
<path d="M209.79 271.90L212.99 275.10M209.79 275.10L212.99 271.90" stroke="#ffa500" stroke-width="1" fill="none"/>
<path d="M211.18 271.70L214.38 274.90M211.18 274.90L214.38 271.70" stroke="#ffa500" stroke-width="1" fill="none"/>
<path d="M212.54 271.50L215.74 274.70M212.54 274.70L215.74 271.50" stroke="#ffa500" stroke-width="1" fill="none"/>
<path d="M213.85 271.31L217.05 274.51M213.85 274.51L217.05 271.31" stroke="#ffa500" stroke-width="1" fill="none"/>
<path d="M215.12 271.12L218.32 274.32M215.12 274.32L218.32 271.12" stroke="#ffa500" stroke-width="1" fill="none"/>
<path d="M216.37 270.93L219.57 274.13M216.37 274.13L219.57 270.93" stroke="#ffa500" stroke-width="1" fill="none"/>
<path d="M217.57 270.76L220.77 273.96M217.57 273.96L220.77 270.76" stroke="#ffa500" stroke-width="1" fill="none"/>
<path d="M218.75 270.59L221.95 273.79M218.75 273.79L221.95 270.59" stroke="#ffa500" stroke-width="1" fill="none"/>
<path d="M219.90 270.42L223.10 273.62M219.90 273.62L223.10 270.42" stroke="#ffa500" stroke-width="1" fill="none"/>
<path d="M221.02 270.25L224.22 273.45M221.02 273.45L224.22 270.25" stroke="#ffa500" stroke-width="1" fill="none"/>
<path d="M222.11 270.09L225.31 273.29M222.11 273.29L225.31 270.09" stroke="#ffa500" stroke-width="1" fill="none"/>
<path d="M223.17 269.93L226.37 273.13M223.17 273.13L226.37 269.93" stroke="#ffa500" stroke-width="1" fill="none"/>
<path d="M224.21 269.76L227.41 272.96M224.21 272.96L227.41 269.76" stroke="#ffa500" stroke-width="1" fill="none"/>
<path d="M225.23 269.60L228.43 272.80M225.23 272.80L228.43 269.60" stroke="#ffa500" stroke-width="1" fill="none"/>
<path d="M226.23 269.43L229.43 272.63M226.23 272.63L229.43 269.43" stroke="#ffa500" stroke-width="1" fill="none"/>
<path d="M227.20 269.26L230.40 272.46M227.20 272.46L230.40 269.26" stroke="#ffa500" stroke-width="1" fill="none"/>
<path d="M228.16 269.08L231.36 272.28M228.16 272.28L231.36 269.08" stroke="#ffa500" stroke-width="1" fill="none"/>
<path d="M229.09 268.91L232.29 272.11M229.09 272.11L232.29 268.91" stroke="#ffa500" stroke-width="1" fill="none"/>
<path d="M230.01 268.73L233.21 271.93M230.01 271.93L233.21 268.73" stroke="#ffa500" stroke-width="1" fill="none"/>
<path d="M230.90 268.55L234.10 271.75M230.90 271.75L234.10 268.55" stroke="#ffa500" stroke-width="1" fill="none"/>
<path d="M231.78 268.37L234.98 271.57M231.78 271.57L234.98 268.37" stroke="#ffa500" stroke-width="1" fill="none"/>
<path d="M232.64 268.19L235.84 271.39M232.64 271.39L235.84 268.19" stroke="#ffa500" stroke-width="1" fill="none"/>
<path d="M233.49 268.02L236.69 271.22M233.49 271.22L236.69 268.02" stroke="#ffa500" stroke-width="1" fill="none"/>
<path d="M234.32 267.84L237.52 271.04M234.32 271.04L237.52 267.84" stroke="#ffa500" stroke-width="1" fill="none"/>
<path d="M235.14 267.67L238.34 270.87M235.14 270.87L238.34 267.67" stroke="#ffa500" stroke-width="1" fill="none"/>
<path d="M235.94 267.51L239.14 270.71M235.94 270.71L239.14 267.51" stroke="#ffa500" stroke-width="1" fill="none"/>
<path d="M236.73 267.35L239.93 270.55M236.73 270.55L239.93 267.35" stroke="#ffa500" stroke-width="1" fill="none"/>
<path d="M237.50 267.19L240.70 270.39M237.50 270.39L240.70 267.19" stroke="#ffa500" stroke-width="1" fill="none"/>
<path d="M238.26 267.04L241.46 270.24M238.26 270.24L241.46 267.04" stroke="#ffa500" stroke-width="1" fill="none"/>
<path d="M239.01 266.90L242.21 270.10M239.01 270.10L242.21 266.90" stroke="#ffa500" stroke-width="1" fill="none"/>
<path d="M239.75 266.75L242.95 269.95M239.75 269.95L242.95 266.75" stroke="#ffa500" stroke-width="1" fill="none"/>
<path d="M240.47 266.61L243.67 269.81M240.47 269.81L243.67 266.61" stroke="#ffa500" stroke-width="1" fill="none"/>
<path d="M241.19 266.47L244.39 269.67M241.19 269.67L244.39 266.47" stroke="#ffa500" stroke-width="1" fill="none"/>
<path d="M241.89 266.32L245.09 269.52M241.89 269.52L245.09 266.32" stroke="#ffa500" stroke-width="1" fill="none"/>
<path d="M242.58 266.18L245.78 269.38M242.58 269.38L245.78 266.18" stroke="#ffa500" stroke-width="1" fill="none"/>
<path d="M243.26 266.04L246.46 269.24M243.26 269.24L246.46 266.04" stroke="#ffa500" stroke-width="1" fill="none"/>
<path d="M243.93 265.90L247.13 269.10M243.93 269.10L247.13 265.90" stroke="#ffa500" stroke-width="1" fill="none"/>
<path d="M244.59 265.77L247.79 268.97M244.59 268.97L247.79 265.77" stroke="#ffa500" stroke-width="1" fill="none"/>
<path d="M245.25 265.63L248.45 268.83M245.25 268.83L248.45 265.63" stroke="#ffa500" stroke-width="1" fill="none"/>
</g>
<g>
<path d="M247.6 264.6L248.1 264.4L248.5 264.2L249.0 264.1L249.4 263.9L249.8 263.7L250.3 263.5L250.7 263.4L251.1 263.2L251.6 263.1L252.0 263.0L252.4 262.9L252.9 262.7L253.3 262.6L253.7 262.5L254.1 262.4L254.5 262.3L255.0 262.2L255.4 262.2L255.9 262.1L256.3 262.0L256.7 261.8L257.1 261.7L257.6 261.6L258.1 261.6L258.5 261.5L259.0 261.5L259.5 261.4L259.9 261.3L260.4 261.2L260.9 261.1L261.4 261.0L261.9 260.8L262.3 260.7L262.8 260.6L263.3 260.5L263.8 260.3L264.2 260.1L264.7 260.0L265.2 259.8L265.6 259.6L266.1 259.4L266.6 259.3L267.0 259.1L267.4 258.8L267.9 258.6L268.4 258.4L268.8 258.3L269.3 258.2L269.7 258.0L270.2 257.7L270.7 257.6L271.2 257.5L271.6 257.3L272.0 257.1L272.5 257.0L272.9 256.7L273.3 256.5L273.8 256.3L274.3 256.3L274.8 256.2L275.2 256.0L275.7 255.8L276.1 255.5L276.5 255.3L277.0 255.1L277.4 254.9L277.9 254.7L278.3 254.5L278.8 254.4L279.3 254.2L279.7 253.9L280.1 253.6L280.5 253.3L281.0 253.3L281.5 253.3L282.0 253.1L282.4 252.9L282.9 252.7L283.3 252.5L283.8 252.4L284.2 252.1L284.6 251.9L285.1 251.7L285.5 251.4L285.9 251.1L286.4 251.0L286.9 251.0L287.3 250.8L287.8 250.6L288.2 250.5L288.7 250.4L289.1 250.1L289.6 249.9L290.1 249.9L290.6 249.8L290.9 249.5L291.3 249.1L291.8 249.1L292.3 249.1L292.8 249.0L293.3 248.8L293.7 248.6L294.2 248.4L294.6 248.3L295.1 248.2L295.6 248.1L296.0 247.9L296.4 247.5L296.8 247.2L297.3 247.0L297.7 246.8L298.2 246.7L298.7 246.7L299.2 246.6L299.6 246.1L299.9 245.7L300.4 245.5L300.9 245.4L301.4 245.4L301.8 245.2L302.2 244.9L302.6 244.5L303.0 244.1L303.4 244.0L303.9 243.9L304.4 243.8L304.9 243.7L305.3 243.3L305.8 243.2L306.3 243.2L306.7 242.8L307.1 242.5L307.6 242.4L308.0 242.2L308.5 242.1L309.1 242.1L309.6 242.0L309.9 241.5L310.3 241.3L310.9 241.2L311.3 240.9L311.7 240.7L312.2 240.5L312.7 240.3L313.1 240.0L313.6 239.7L314.0 239.5L314.5 239.3L315.0 239.1L315.5 238.9L315.9 238.7L316.4 238.4L316.8 238.1L317.2 237.8L317.6 237.5L318.1 237.4L318.7 237.3L319.1 237.0L319.5 236.7L320.0 236.6L320.5 236.3L320.9 236.0L321.4 235.9L321.9 235.7L322.3 235.4L322.8 235.2L323.2 234.9L323.7 234.7L324.2 234.5L324.5 234.0L325.0 233.7L325.5 233.6L325.8 233.2L326.3 233.0L326.9 233.0L327.4 232.8L327.7 232.3L328.1 232.0L328.7 231.8L329.0 231.4L329.4 231.1L329.9 231.0L330.5 230.9L331.0 230.8L331.5 230.7L332.0 230.5L332.4 230.1L332.8 229.8L333.2 229.4L333.7 229.2L334.2 229.0L334.6 228.7L335.1 228.5L335.5 228.3L336.2 228.4L336.7 228.2L337.0 227.6L337.3 227.2L337.8 227.1L338.4 226.9L338.8 226.6L339.1 226.2L339.6 225.9L340.0 225.6L340.4 225.3L340.9 225.1L341.3 224.9L341.8 224.7L342.3 224.6L342.7 224.3L343.1 223.9L343.5 223.6L343.9 223.2L344.4 223.0L344.8 222.7L345.2 222.5L345.8 222.4L346.2 222.1L346.5 221.7L347.0 221.5L347.6 221.4L348.1 221.3L348.4 220.9L348.7 220.4L349.4 220.5L350.0 220.6L350.4 220.2L350.8 219.9L351.2 219.6L351.5 219.2L352.1 219.3L352.7 219.4L353.2 219.2L353.7 219.0L354.1 218.7L354.4 218.3L354.9 218.1L355.4 218.0L355.9 218.0L356.2 217.4L356.4 216.8L356.7 216.2L357.2 216.0L357.7 216.0L358.0 215.5L358.4 215.2L359.0 215.3L359.6 215.5L360.1 215.5L360.4 215.0L361.0 215.1L361.5 215.2L361.8 214.7L362.3 214.5L362.9 214.7L363.4 214.6L363.6 213.8L363.9 213.3L364.6 213.8L365.2 213.8L365.5 213.1L365.8 212.7L366.5 213.0L367.2 213.1L367.6 212.9L368.1 212.6L368.4 212.1L369.0 212.0L369.7 212.1L370.0 211.6L370.1 210.6L370.7 210.5L371.6 210.8L371.9 210.1L372.2 209.5L372.8 209.4L373.4 209.2L373.9 208.8L374.3 208.4L374.7 207.9L375.2 207.6L375.6 207.3L376.0 206.9L376.5 206.6L377.0 206.5L377.7 206.4L378.0 206.0L378.3 205.6L378.8 205.4L379.3 205.3L379.7 205.1L380.2 204.9L380.7 204.8L381.1 204.4L381.2 203.7L381.6 203.3L382.1 203.3L382.5 202.9L382.7 202.3L382.9 201.6L383.4 201.3L384.1 201.7L384.8 201.8L385.1 201.3L385.4 200.8L385.9 200.7L386.4 200.4L386.8 200.2L387.3 199.9L387.6 199.4L388.0 198.9L388.3 198.6L388.8 198.3L389.5 198.4L390.2 198.6L391.0 198.7L391.5 198.5L391.9 198.0L392.2 197.4L392.6 197.0L393.1 196.7L393.6 196.5L394.0 196.0L394.2 195.3L394.7 195.1L395.3 194.8L395.8 194.6L396.6 194.8L397.2 194.6L397.3 193.8L397.4 193.0L397.7 192.5L398.3 192.5L398.8 192.2L399.2 191.8L399.9 192.0L400.5 191.9L400.7 191.4L401.0 191.0L401.6 190.9L402.1 190.8L402.3 190.3L402.9 190.4L403.5 190.8L403.8 190.5L404.1 190.0L404.3 189.5L404.6 188.9L405.1 188.8L405.5 188.6L405.8 188.2L406.3 188.3L406.9 188.5L407.2 188.0L407.4 187.1L407.7 186.7L408.3 186.9L409.0 187.6L409.6 187.9L410.0 187.6L410.3 186.9L410.7 186.7L411.3 186.9L411.7 186.8L412.1 186.5L412.7 186.5L413.2 186.6L413.5 186.1L413.8 185.4L414.2 184.9L414.8 185.4L415.5 185.6L415.9 185.3L416.4 185.0L416.9 184.9L417.6 184.9L418.0 184.6L418.4 184.2L418.7 183.6L419.2 183.4L419.7 183.3L420.0 182.8L420.4 182.4L421.1 182.7L421.8 183.0L422.3 183.0L422.8 182.8L423.0 182.3L423.2 181.7L423.5 181.2L424.0 181.5L424.6 181.9L425.0 181.8L425.3 181.6L425.5 181.3L425.8 180.9L426.1 180.7L426.4 180.7L426.7 180.8L427.0 180.8L427.3 180.6L427.7 180.4L428.2 180.1L428.6 180.0L429.1 180.2L429.5 180.2L430.0 179.7L430.4 180.2L430.8 180.9L431.3 180.2L431.5 173.5L431.0 173.2L430.5 172.9L430.1 173.2L429.6 173.6L429.1 173.8L428.7 173.9L428.2 173.7L427.7 173.1L427.3 173.1L426.7 173.3L426.0 173.2L425.4 173.6L424.8 173.7L424.1 173.2L423.5 173.5L423.1 174.2L422.6 174.7L422.1 174.9L421.6 175.3L421.3 176.0L420.9 176.4L420.1 176.0L419.3 175.5L418.7 175.6L418.4 176.1L418.1 176.8L417.7 177.1L417.0 176.8L416.5 176.9L416.3 177.7L415.9 178.0L415.4 178.1L415.1 178.3L414.6 178.5L414.3 178.7L414.0 179.2L413.7 179.5L413.3 179.8L412.9 179.9L412.3 179.7L411.8 179.7L411.4 180.0L411.1 180.5L410.7 180.9L410.1 180.6L409.6 180.4L409.2 180.7L408.8 181.1L408.3 181.2L407.8 181.3L407.3 181.1L406.8 181.1L406.5 181.7L406.1 182.2L405.7 182.5L405.3 182.8L404.8 182.9L404.1 182.6L403.5 182.5L403.0 182.7L402.5 182.7L402.0 182.9L401.7 183.6L401.2 183.8L400.6 183.8L400.2 184.1L399.6 184.3L399.0 184.3L398.4 184.6L397.9 184.9L397.5 185.4L397.2 186.0L396.9 186.6L396.5 187.0L396.0 187.3L395.4 187.4L394.7 187.4L394.2 187.8L393.6 187.9L392.9 187.9L392.6 188.4L392.2 188.8L391.9 189.3L391.6 189.9L391.1 190.1L390.6 190.3L390.2 190.6L389.6 190.7L389.0 190.8L388.6 191.1L388.3 191.6L387.9 191.8L387.6 192.2L387.2 192.6L386.7 192.8L386.2 192.9L385.6 192.8L385.3 193.3L385.1 193.9L384.7 194.2L384.4 194.8L384.3 195.5L383.8 195.8L383.2 195.8L382.7 195.8L382.2 196.0L381.6 196.1L381.2 196.3L380.9 196.9L380.6 197.5L380.2 197.8L379.7 197.9L378.9 197.6L378.2 197.5L377.8 197.9L377.5 198.4L377.1 198.7L376.6 199.0L376.1 199.2L375.5 199.4L375.1 199.8L374.7 200.3L374.2 200.6L373.5 200.7L372.9 200.8L372.5 201.3L372.4 202.1L372.1 202.7L371.5 202.9L371.1 203.3L370.7 203.6L370.1 203.7L369.7 204.0L369.4 204.5L369.1 205.0L368.6 205.1L368.0 204.9L367.6 205.1L367.3 205.6L367.1 206.1L366.7 206.4L366.3 206.7L365.9 206.9L365.4 207.0L365.0 207.3L364.6 207.5L364.1 207.7L363.7 208.0L363.3 208.2L362.9 208.4L362.5 208.8L362.1 209.1L361.7 209.4L361.2 209.5L360.7 209.6L360.2 209.6L359.7 209.7L359.3 209.8L358.9 210.3L358.5 210.6L358.0 210.7L357.5 210.8L356.9 210.8L356.5 211.1L356.1 211.5L355.8 211.9L355.3 212.1L354.7 212.2L354.2 212.3L353.7 212.3L353.3 212.6L353.0 213.2L352.6 213.5L351.9 213.4L351.4 213.4L351.0 213.8L350.6 214.1L350.1 214.2L349.6 214.4L349.2 214.8L348.8 215.0L348.1 214.9L347.5 214.8L347.1 215.1L346.6 215.4L346.1 215.4L345.7 215.8L345.4 216.4L345.0 216.6L344.6 216.9L344.2 217.3L343.7 217.4L343.1 217.4L342.6 217.6L342.3 218.0L341.9 218.5L341.5 218.9L341.0 219.0L340.5 219.1L340.1 219.6L339.8 220.1L339.4 220.4L338.9 220.5L338.3 220.6L337.9 220.8L337.4 221.0L336.9 221.3L336.6 221.8L336.0 221.8L335.6 222.0L335.4 222.7L335.0 223.1L334.6 223.4L334.2 223.7L333.6 223.7L332.8 223.5L332.3 223.6L331.9 223.9L331.5 224.2L331.0 224.4L330.4 224.4L329.9 224.6L329.6 225.1L329.3 225.7L328.8 225.7L328.2 225.8L327.8 226.1L327.3 226.4L326.9 226.7L326.5 227.0L326.0 227.1L325.6 227.4L325.3 228.0L325.0 228.6L324.6 228.9L324.1 229.0L323.5 229.0L323.0 229.1L322.6 229.5L322.3 230.0L321.8 230.2L321.3 230.3L320.8 230.6L320.4 230.8L319.9 231.1L319.6 231.5L319.2 231.8L318.7 232.0L318.2 232.1L317.8 232.4L317.4 232.7L316.9 233.0L316.3 233.0L315.8 233.0L315.3 233.2L314.9 233.6L314.5 233.8L314.0 234.0L313.5 234.1L313.0 234.2L312.6 234.4L312.1 234.7L311.7 234.8L311.3 235.3L311.0 235.7L310.5 235.8L310.0 235.7L309.5 235.9L309.1 236.3L308.7 236.6L308.3 236.8L307.8 236.9L307.4 237.1L307.0 237.5L306.6 237.8L306.1 237.9L305.7 238.0L305.4 238.6L305.0 238.9L304.5 238.9L304.1 239.2L303.7 239.6L303.2 239.7L302.7 239.7L302.3 239.9L301.8 240.1L301.4 240.3L301.0 240.6L300.6 240.9L300.1 241.1L299.6 241.1L299.0 241.0L298.5 241.1L298.1 241.3L297.7 241.5L297.3 241.9L296.8 242.0L296.3 242.1L295.9 242.2L295.4 242.4L295.0 242.7L294.6 242.9L294.1 243.0L293.7 243.2L293.2 243.4L292.8 243.7L292.4 243.8L291.8 243.8L291.4 243.9L290.9 244.2L290.5 244.4L290.0 244.5L289.6 244.7L289.1 244.9L288.7 245.0L288.2 245.1L287.7 245.2L287.3 245.5L286.9 245.7L286.4 246.0L286.0 246.2L285.5 246.4L285.1 246.7L284.7 246.9L284.2 247.0L283.7 247.1L283.3 247.3L282.8 247.6L282.4 247.8L282.0 248.0L281.5 248.2L281.0 248.4L280.6 248.4L280.1 248.6L279.7 248.9L279.3 249.1L278.8 249.4L278.4 249.6L277.9 249.8L277.5 249.9L277.0 250.1L276.5 250.2L276.0 250.3L275.6 250.5L275.2 250.7L274.8 251.0L274.3 251.2L273.9 251.4L273.5 251.7L273.0 251.8L272.5 251.9L272.1 252.0L271.6 252.2L271.1 252.3L270.7 252.5L270.3 252.8L269.8 253.0L269.4 253.3L268.9 253.4L268.5 253.6L268.0 253.7L267.5 253.8L267.1 254.1L266.7 254.3L266.3 254.5L265.8 254.7L265.4 254.9L265.0 255.1L264.5 255.2L264.1 255.4L263.7 255.6L263.2 255.7L262.8 255.8L262.4 256.0L261.9 256.1L261.5 256.3L261.1 256.4L260.7 256.5L260.2 256.6L259.8 256.6L259.4 256.7L259.0 256.9L258.6 257.1L258.1 257.1L257.7 257.2L257.2 257.3L256.8 257.4L256.3 257.5L255.9 257.6L255.4 257.6L255.0 257.7L254.5 257.8L254.0 257.9L253.5 258.0L253.1 258.1L252.6 258.3L252.1 258.4L251.6 258.6L251.2 258.7L250.7 258.9L250.2 259.0L249.7 259.2L249.3 259.3L248.8 259.5L248.3 259.7L247.9 259.9L247.4 260.0L247.0 260.2L246.5 260.3L246.1 260.5Z" fill="#0000ff"/>
<path d="M52.65 283.50H56.15M54.40 281.75V285.25M52.90 282.00L55.90 285.00M52.90 285.00L55.90 282.00" stroke="#0000ff" stroke-width="1" fill="none"/>
<path d="M84.05 283.40H87.55M85.80 281.65V285.15M84.30 281.90L87.30 284.90M84.30 284.90L87.30 281.90" stroke="#0000ff" stroke-width="1" fill="none"/>
<path d="M102.42 282.90H105.92M104.17 281.15V284.65M102.67 281.40L105.67 284.40M102.67 284.40L105.67 281.40" stroke="#0000ff" stroke-width="1" fill="none"/>
<path d="M115.45 282.37H118.95M117.20 280.62V284.12M115.70 280.87L118.70 283.87M115.70 283.87L118.70 280.87" stroke="#0000ff" stroke-width="1" fill="none"/>
<path d="M125.56 281.91H129.06M127.31 280.16V283.66M125.81 280.41L128.81 283.41M125.81 283.41L128.81 280.41" stroke="#0000ff" stroke-width="1" fill="none"/>
<path d="M133.81 281.58H137.31M135.56 279.83V283.33M134.06 280.08L137.06 283.08M134.06 283.08L137.06 280.08" stroke="#0000ff" stroke-width="1" fill="none"/>
<path d="M140.80 281.28H144.30M142.55 279.53V283.03M141.05 279.78L144.05 282.78M141.05 282.78L144.05 279.78" stroke="#0000ff" stroke-width="1" fill="none"/>
<path d="M146.84 280.95H150.34M148.59 279.20V282.70M147.09 279.45L150.09 282.45M147.09 282.45L150.09 279.45" stroke="#0000ff" stroke-width="1" fill="none"/>
<path d="M152.18 280.51H155.68M153.93 278.76V282.26M152.43 279.01L155.43 282.01M152.43 282.01L155.43 279.01" stroke="#0000ff" stroke-width="1" fill="none"/>
<path d="M156.95 279.94H160.45M158.70 278.19V281.69M157.20 278.44L160.20 281.44M157.20 281.44L160.20 278.44" stroke="#0000ff" stroke-width="1" fill="none"/>
<path d="M161.27 279.36H164.77M163.02 277.61V281.11M161.52 277.86L164.52 280.86M161.52 280.86L164.52 277.86" stroke="#0000ff" stroke-width="1" fill="none"/>
<path d="M165.21 278.81H168.71M166.96 277.06V280.56M165.46 277.31L168.46 280.31M165.46 280.31L168.46 277.31" stroke="#0000ff" stroke-width="1" fill="none"/>
<path d="M168.84 278.32H172.34M170.59 276.57V280.07M169.09 276.82L172.09 279.82M169.09 279.82L172.09 276.82" stroke="#0000ff" stroke-width="1" fill="none"/>
<path d="M172.19 277.90H175.69M173.94 276.15V279.65M172.44 276.40L175.44 279.40M172.44 279.40L175.44 276.40" stroke="#0000ff" stroke-width="1" fill="none"/>
<path d="M175.32 277.50H178.82M177.07 275.75V279.25M175.57 276.00L178.57 279.00M175.57 279.00L178.57 276.00" stroke="#0000ff" stroke-width="1" fill="none"/>
<path d="M178.24 277.13H181.74M179.99 275.38V278.88M178.49 275.63L181.49 278.63M178.49 278.63L181.49 275.63" stroke="#0000ff" stroke-width="1" fill="none"/>
<path d="M180.99 276.75H184.49M182.74 275.00V278.50M181.24 275.25L184.24 278.25M181.24 278.25L184.24 275.25" stroke="#0000ff" stroke-width="1" fill="none"/>
<path d="M183.58 276.37H187.08M185.33 274.62V278.12M183.83 274.87L186.83 277.87M183.83 277.87L186.83 274.87" stroke="#0000ff" stroke-width="1" fill="none"/>
<path d="M186.03 275.98H189.53M187.78 274.23V277.73M186.28 274.48L189.28 277.48M186.28 277.48L189.28 274.48" stroke="#0000ff" stroke-width="1" fill="none"/>
<path d="M188.35 275.58H191.85M190.10 273.83V277.33M188.60 274.08L191.60 277.08M188.60 277.08L191.60 274.08" stroke="#0000ff" stroke-width="1" fill="none"/>
<path d="M190.56 275.13H194.06M192.31 273.38V276.88M190.81 273.63L193.81 276.63M190.81 276.63L193.81 273.63" stroke="#0000ff" stroke-width="1" fill="none"/>
<path d="M192.67 274.62H196.17M194.42 272.87V276.37M192.92 273.12L195.92 276.12M192.92 276.12L195.92 273.12" stroke="#0000ff" stroke-width="1" fill="none"/>
<path d="M194.68 274.10H198.18M196.43 272.35V275.85M194.93 272.60L197.93 275.60M194.93 275.60L197.93 272.60" stroke="#0000ff" stroke-width="1" fill="none"/>
<path d="M196.61 273.59H200.11M198.36 271.84V275.34M196.86 272.09L199.86 275.09M196.86 275.09L199.86 272.09" stroke="#0000ff" stroke-width="1" fill="none"/>
<path d="M198.46 273.12H201.96M200.21 271.37V274.87M198.71 271.62L201.71 274.62M198.71 274.62L201.71 271.62" stroke="#0000ff" stroke-width="1" fill="none"/>
<path d="M200.23 272.71H203.73M201.98 270.96V274.46M200.48 271.21L203.48 274.21M200.48 274.21L203.48 271.21" stroke="#0000ff" stroke-width="1" fill="none"/>
<path d="M201.94 272.37H205.44M203.69 270.62V274.12M202.19 270.87L205.19 273.87M202.19 273.87L205.19 270.87" stroke="#0000ff" stroke-width="1" fill="none"/>
<path d="M203.59 272.07H207.09M205.34 270.32V273.82M203.84 270.57L206.84 273.57M203.84 273.57L206.84 270.57" stroke="#0000ff" stroke-width="1" fill="none"/>
<path d="M205.18 271.80H208.68M206.93 270.05V273.55M205.43 270.30L208.43 273.30M205.43 273.30L208.43 270.30" stroke="#0000ff" stroke-width="1" fill="none"/>
<path d="M206.72 271.55H210.22M208.47 269.80V273.30M206.97 270.05L209.97 273.05M206.97 273.05L209.97 270.05" stroke="#0000ff" stroke-width="1" fill="none"/>
<path d="M208.20 271.32H211.70M209.95 269.57V273.07M208.45 269.82L211.45 272.82M208.45 272.82L211.45 269.82" stroke="#0000ff" stroke-width="1" fill="none"/>
<path d="M209.64 271.09H213.14M211.39 269.34V272.84M209.89 269.59L212.89 272.59M209.89 272.59L212.89 269.59" stroke="#0000ff" stroke-width="1" fill="none"/>
<path d="M211.03 270.87H214.53M212.78 269.12V272.62M211.28 269.37L214.28 272.37M211.28 272.37L214.28 269.37" stroke="#0000ff" stroke-width="1" fill="none"/>
<path d="M212.39 270.64H215.89M214.14 268.89V272.39M212.64 269.14L215.64 272.14M212.64 272.14L215.64 269.14" stroke="#0000ff" stroke-width="1" fill="none"/>
<path d="M213.70 270.41H217.20M215.45 268.66V272.16M213.95 268.91L216.95 271.91M213.95 271.91L216.95 268.91" stroke="#0000ff" stroke-width="1" fill="none"/>
<path d="M214.97 270.17H218.47M216.72 268.42V271.92M215.22 268.67L218.22 271.67M215.22 271.67L218.22 268.67" stroke="#0000ff" stroke-width="1" fill="none"/>
<path d="M216.22 269.94H219.72M217.97 268.19V271.69M216.47 268.44L219.47 271.44M216.47 271.44L219.47 268.44" stroke="#0000ff" stroke-width="1" fill="none"/>
<path d="M217.42 269.71H220.92M219.17 267.96V271.46M217.67 268.21L220.67 271.21M217.67 271.21L220.67 268.21" stroke="#0000ff" stroke-width="1" fill="none"/>
<path d="M218.60 269.49H222.10M220.35 267.74V271.24M218.85 267.99L221.85 270.99M218.85 270.99L221.85 267.99" stroke="#0000ff" stroke-width="1" fill="none"/>
<path d="M219.75 269.26H223.25M221.50 267.51V271.01M220.00 267.76L223.00 270.76M220.00 270.76L223.00 267.76" stroke="#0000ff" stroke-width="1" fill="none"/>
<path d="M220.87 269.04H224.37M222.62 267.29V270.79M221.12 267.54L224.12 270.54M221.12 270.54L224.12 267.54" stroke="#0000ff" stroke-width="1" fill="none"/>
<path d="M221.96 268.81H225.46M223.71 267.06V270.56M222.21 267.31L225.21 270.31M222.21 270.31L225.21 267.31" stroke="#0000ff" stroke-width="1" fill="none"/>
<path d="M223.02 268.59H226.52M224.77 266.84V270.34M223.27 267.09L226.27 270.09M223.27 270.09L226.27 267.09" stroke="#0000ff" stroke-width="1" fill="none"/>
<path d="M224.06 268.37H227.56M225.81 266.62V270.12M224.31 266.87L227.31 269.87M224.31 269.87L227.31 266.87" stroke="#0000ff" stroke-width="1" fill="none"/>
<path d="M225.08 268.15H228.58M226.83 266.40V269.90M225.33 266.65L228.33 269.65M225.33 269.65L228.33 266.65" stroke="#0000ff" stroke-width="1" fill="none"/>
<path d="M226.08 267.94H229.58M227.83 266.19V269.69M226.33 266.44L229.33 269.44M226.33 269.44L229.33 266.44" stroke="#0000ff" stroke-width="1" fill="none"/>
<path d="M227.05 267.72H230.55M228.80 265.97V269.47M227.30 266.22L230.30 269.22M227.30 269.22L230.30 266.22" stroke="#0000ff" stroke-width="1" fill="none"/>
<path d="M228.01 267.51H231.51M229.76 265.76V269.26M228.26 266.01L231.26 269.01M228.26 269.01L231.26 266.01" stroke="#0000ff" stroke-width="1" fill="none"/>
<path d="M228.94 267.30H232.44M230.69 265.55V269.05M229.19 265.80L232.19 268.80M229.19 268.80L232.19 265.80" stroke="#0000ff" stroke-width="1" fill="none"/>
<path d="M229.86 267.09H233.36M231.61 265.34V268.84M230.11 265.59L233.11 268.59M230.11 268.59L233.11 265.59" stroke="#0000ff" stroke-width="1" fill="none"/>
<path d="M230.75 266.88H234.25M232.50 265.13V268.63M231.00 265.38L234.00 268.38M231.00 268.38L234.00 265.38" stroke="#0000ff" stroke-width="1" fill="none"/>
<path d="M231.63 266.68H235.13M233.38 264.93V268.43M231.88 265.18L234.88 268.18M231.88 268.18L234.88 265.18" stroke="#0000ff" stroke-width="1" fill="none"/>
<path d="M232.49 266.47H235.99M234.24 264.72V268.22M232.74 264.97L235.74 267.97M232.74 267.97L235.74 264.97" stroke="#0000ff" stroke-width="1" fill="none"/>
<path d="M233.34 266.27H236.84M235.09 264.52V268.02M233.59 264.77L236.59 267.77M233.59 267.77L236.59 264.77" stroke="#0000ff" stroke-width="1" fill="none"/>
<path d="M234.17 266.06H237.67M235.92 264.31V267.81M234.42 264.56L237.42 267.56M234.42 267.56L237.42 264.56" stroke="#0000ff" stroke-width="1" fill="none"/>
<path d="M234.99 265.85H238.49M236.74 264.10V267.60M235.24 264.35L238.24 267.35M235.24 267.35L238.24 264.35" stroke="#0000ff" stroke-width="1" fill="none"/>
<path d="M235.79 265.64H239.29M237.54 263.89V267.39M236.04 264.14L239.04 267.14M236.04 267.14L239.04 264.14" stroke="#0000ff" stroke-width="1" fill="none"/>
<path d="M236.58 265.43H240.08M238.33 263.68V267.18M236.83 263.93L239.83 266.93M236.83 266.93L239.83 263.93" stroke="#0000ff" stroke-width="1" fill="none"/>
<path d="M237.35 265.22H240.85M239.10 263.47V266.97M237.60 263.72L240.60 266.72M237.60 266.72L240.60 263.72" stroke="#0000ff" stroke-width="1" fill="none"/>
<path d="M238.11 265.01H241.61M239.86 263.26V266.76M238.36 263.51L241.36 266.51M238.36 266.51L241.36 263.51" stroke="#0000ff" stroke-width="1" fill="none"/>
<path d="M238.86 264.80H242.36M240.61 263.05V266.55M239.11 263.30L242.11 266.30M239.11 266.30L242.11 263.30" stroke="#0000ff" stroke-width="1" fill="none"/>
<path d="M239.60 264.57H243.10M241.35 262.82V266.32M239.85 263.07L242.85 266.07M239.85 266.07L242.85 263.07" stroke="#0000ff" stroke-width="1" fill="none"/>
<path d="M240.32 264.34H243.82M242.07 262.59V266.09M240.57 262.84L243.57 265.84M240.57 265.84L243.57 262.84" stroke="#0000ff" stroke-width="1" fill="none"/>
<path d="M241.04 264.09H244.54M242.79 262.34V265.84M241.29 262.59L244.29 265.59M241.29 265.59L244.29 262.59" stroke="#0000ff" stroke-width="1" fill="none"/>
<path d="M241.74 263.84H245.24M243.49 262.09V265.59M241.99 262.34L244.99 265.34M241.99 265.34L244.99 262.34" stroke="#0000ff" stroke-width="1" fill="none"/>
<path d="M242.43 263.59H245.93M244.18 261.84V265.34M242.68 262.09L245.68 265.09M242.68 265.09L245.68 262.09" stroke="#0000ff" stroke-width="1" fill="none"/>
<path d="M243.11 263.33H246.61M244.86 261.58V265.08M243.36 261.83L246.36 264.83M243.36 264.83L246.36 261.83" stroke="#0000ff" stroke-width="1" fill="none"/>
<path d="M243.78 263.07H247.28M245.53 261.32V264.82M244.03 261.57L247.03 264.57M244.03 264.57L247.03 261.57" stroke="#0000ff" stroke-width="1" fill="none"/>
<path d="M244.44 262.81H247.94M246.19 261.06V264.56M244.69 261.31L247.69 264.31M244.69 264.31L247.69 261.31" stroke="#0000ff" stroke-width="1" fill="none"/>
<path d="M245.10 262.56H248.60M246.85 260.81V264.31M245.35 261.06L248.35 264.06M245.35 264.06L248.35 261.06" stroke="#0000ff" stroke-width="1" fill="none"/>
</g>
<g>
<path d="M247.7 260.6L248.2 260.5L248.6 260.3L249.1 260.1L249.5 259.9L250.0 259.7L250.4 259.6L250.9 259.4L251.3 259.2L251.8 259.1L252.2 258.9L252.6 258.6L253.1 258.5L253.5 258.4L254.0 258.2L254.4 258.1L254.9 258.0L255.3 257.8L255.8 257.7L256.2 257.6L256.6 257.4L257.1 257.3L257.6 257.1L258.0 256.9L258.5 256.8L258.9 256.6L259.4 256.4L259.9 256.3L260.4 256.2L260.9 256.0L261.4 255.8L261.9 255.6L262.4 255.4L262.9 255.2L263.4 254.9L263.9 254.7L264.4 254.4L264.9 254.1L265.3 253.8L265.8 253.5L266.3 253.2L266.8 253.0L267.3 252.7L267.7 252.4L268.2 252.1L268.7 251.8L269.1 251.4L269.5 251.1L270.0 250.8L270.5 250.6L271.0 250.4L271.4 250.1L271.9 249.8L272.3 249.5L272.7 249.1L273.0 248.6L273.4 248.4L274.0 248.3L274.4 248.1L274.7 247.7L275.1 247.4L275.6 247.3L276.1 247.2L276.6 247.0L277.0 246.8L277.3 246.5L277.7 246.1L278.2 246.0L278.7 245.9L279.1 245.7L279.6 245.6L280.1 245.3L280.5 245.1L280.9 244.8L281.4 244.6L281.8 244.4L282.3 244.2L282.8 244.0L283.3 243.8L283.8 243.5L284.2 243.3L284.7 243.0L285.2 242.8L285.7 242.5L286.2 242.2L286.7 241.9L287.1 241.5L287.7 241.2L288.2 240.9L288.7 240.3L289.2 239.9L289.7 239.5L290.2 239.1L290.6 238.7L291.0 238.4L291.5 238.3L291.7 237.9L291.9 237.5L292.4 237.4L292.9 237.4L293.3 237.2L293.7 237.1L294.2 236.9L294.6 236.7L295.0 236.4L295.4 236.2L295.9 236.1L296.4 236.0L296.9 235.8L297.4 235.5L297.8 235.2L298.3 234.9L298.8 234.6L299.1 234.0L299.6 233.7L300.2 233.4L300.8 233.0L301.3 232.6L301.8 232.2L302.3 231.8L302.9 231.5L303.3 231.1L303.6 230.6L304.0 230.4L304.5 230.2L305.0 230.1L305.3 229.8L305.6 229.4L306.1 229.2L306.5 229.0L307.1 228.8L307.6 228.6L308.1 228.3L308.6 228.0L309.1 227.6L309.6 227.2L310.2 226.9L310.7 226.6L311.1 226.0L311.5 225.5L312.0 225.1L312.5 224.7L313.0 224.3L313.6 224.1L314.0 223.5L314.3 223.0L314.8 222.6L315.4 222.4L315.8 222.1L316.3 221.8L316.7 221.6L317.1 221.1L317.2 220.6L317.6 220.2L318.0 219.9L318.6 219.8L319.1 219.7L319.5 219.2L319.7 218.6L320.2 218.4L320.8 218.2L321.2 217.8L321.6 217.5L322.0 217.1L322.4 216.7L323.0 216.6L323.6 216.5L323.9 216.0L324.2 215.5L324.6 215.1L325.2 214.9L325.7 214.8L326.2 214.5L326.8 214.3L327.4 214.2L327.8 213.7L328.0 213.0L328.5 212.7L329.1 212.6L329.5 212.2L330.1 211.9L330.6 211.6L330.8 210.9L331.3 210.4L331.7 210.1L332.1 209.6L332.6 209.2L333.2 209.0L333.8 208.8L334.2 208.3L334.5 207.9L334.9 207.4L335.4 207.0L335.9 206.7L336.1 206.0L336.5 205.6L337.1 205.4L337.5 204.9L338.1 204.7L338.6 204.3L338.9 203.7L339.2 203.1L339.7 202.7L340.3 202.4L340.8 202.1L341.4 201.8L342.0 201.5L342.5 201.1L343.0 200.7L343.4 200.1L343.7 199.5L344.2 199.1L344.7 198.7L345.1 198.2L345.8 197.9L346.3 197.6L346.5 197.0L346.9 196.4L347.4 196.0L347.9 195.7L348.3 195.2L348.5 194.5L348.9 194.0L349.5 193.7L349.7 193.0L349.8 192.2L350.3 191.9L351.0 191.6L351.5 191.3L351.9 190.8L352.3 190.4L352.9 190.1L353.7 190.0L354.2 189.7L354.5 189.1L354.7 188.4L355.1 187.9L355.5 187.5L356.1 187.2L356.5 186.8L356.7 186.1L357.0 185.6L357.5 185.2L357.9 184.8L358.5 184.6L359.0 184.2L359.5 183.9L360.2 183.9L360.8 183.7L361.1 183.1L361.6 182.8L362.2 182.7L362.7 182.4L363.2 182.1L363.9 182.0L364.5 181.8L364.8 181.4L365.2 181.0L366.0 181.0L366.3 180.5L366.3 179.6L366.7 179.1L367.1 178.8L367.4 178.2L367.8 177.7L368.2 177.3L368.4 176.7L368.8 176.2L369.2 175.8L369.6 175.4L370.3 175.3L371.4 175.8L372.1 175.7L372.3 175.1L372.6 174.6L373.1 174.3L373.6 174.0L374.0 173.6L374.2 172.9L374.4 172.2L374.8 171.8L375.1 171.3L375.4 170.7L376.0 170.5L376.9 170.7L377.4 170.3L377.8 169.9L378.6 169.9L379.2 169.7L379.3 168.8L379.7 168.2L380.4 168.0L381.0 167.7L381.2 167.0L381.5 166.4L382.0 166.0L382.3 165.4L383.0 165.3L383.9 165.3L384.3 164.9L384.6 164.5L385.0 164.1L385.4 163.6L385.6 162.9L385.7 162.3L386.2 161.9L386.8 161.8L387.6 161.8L388.0 161.5L388.1 160.6L388.2 159.8L388.5 159.3L389.2 159.3L389.8 159.2L390.2 158.6L390.3 157.9L390.7 157.5L391.4 157.5L391.9 157.1L392.2 156.7L393.0 156.7L393.7 156.7L394.2 156.5L394.9 156.5L395.5 156.3L395.8 155.7L396.2 155.4L396.5 154.9L396.8 154.3L397.2 153.9L397.7 153.6L398.3 153.5L398.8 153.2L399.3 153.0L399.4 152.2L399.3 151.2L399.8 151.0L400.4 150.7L400.9 150.5L401.4 150.4L402.1 150.4L402.7 150.2L402.9 149.5L403.4 149.3L403.9 149.0L404.2 148.6L405.1 148.7L405.7 148.6L406.0 148.1L406.8 148.3L407.8 148.7L407.8 147.7L407.7 146.5L408.2 146.3L408.9 146.3L409.4 146.0L409.8 145.5L410.2 145.1L410.7 144.8L411.0 144.2L411.2 143.5L411.6 143.1L412.3 143.1L413.1 143.0L413.4 142.5L413.6 141.9L414.1 141.5L414.8 141.5L415.4 141.3L415.6 140.6L416.0 140.2L416.6 139.9L416.9 139.4L417.5 139.2L418.1 139.0L418.6 138.7L419.3 138.6L419.9 138.5L420.2 137.9L420.3 137.1L420.9 136.9L421.4 136.5L421.3 135.5L421.7 135.1L422.3 134.9L422.7 134.4L423.1 134.0L423.6 133.7L424.2 133.4L424.6 133.0L424.8 132.3L425.1 131.7L425.4 131.2L425.8 130.7L426.1 130.1L426.6 129.7L427.6 129.9L428.6 130.1L429.3 129.9L429.5 129.2L429.8 128.7L430.5 128.5L430.8 128.1L431.4 128.0L432.0 127.9L432.1 127.2L432.4 126.9L432.7 126.5L432.7 125.8L433.0 125.3L433.4 125.1L433.9 124.9L434.5 125.0L434.8 124.5L434.8 123.5L435.1 123.1L435.6 123.0L435.9 122.5L436.4 122.4L437.1 122.5L437.5 122.2L437.8 121.8L438.5 122.1L439.1 122.2L439.4 121.7L440.0 121.8L440.8 122.4L441.2 122.0L441.1 120.8L441.5 120.4L442.1 120.5L442.5 120.3L442.9 120.2L443.5 120.3L443.9 120.0L444.0 119.0L444.3 118.7L445.0 119.4L445.7 120.0L446.0 119.6L446.4 119.1L447.0 119.5L447.7 119.5L448.1 119.0L448.7 118.6L449.4 118.6L450.3 118.3L451.2 117.5L451.8 116.6L452.1 116.0L452.1 115.5L451.6 114.8L451.5 114.5L451.8 114.4L452.0 114.4L452.4 114.7L450.8 108.1L450.0 107.6L449.4 108.1L448.9 108.5L447.6 108.4L446.1 108.3L445.3 109.0L445.2 109.7L445.0 109.8L444.9 109.5L445.0 110.0L444.8 110.3L444.2 109.8L443.9 110.1L443.7 110.7L443.1 110.4L442.6 110.3L442.2 110.7L441.8 111.1L441.3 111.4L440.7 111.6L440.4 112.3L440.0 112.7L439.4 112.6L438.9 112.6L438.3 112.7L437.9 113.0L437.4 113.2L436.8 113.3L436.4 113.5L436.2 114.3L435.7 114.6L435.0 114.3L434.3 114.1L434.0 114.8L434.0 115.9L433.7 116.4L433.3 116.8L432.9 117.2L432.5 117.5L432.0 117.7L431.4 117.8L430.9 118.1L430.4 118.4L429.9 118.5L429.5 119.0L428.9 119.3L428.2 119.2L427.7 119.6L427.3 120.1L426.7 120.5L426.4 121.1L426.2 121.9L425.7 122.3L424.8 122.3L424.4 122.7L424.2 123.5L424.1 124.2L423.5 124.5L422.6 124.5L422.3 124.9L422.0 125.4L421.6 125.8L420.9 125.9L420.4 126.2L420.5 127.2L420.1 127.7L419.5 127.9L419.4 128.6L419.0 129.1L418.3 129.1L417.9 129.6L417.7 130.3L417.1 130.5L416.2 130.4L415.5 130.4L414.8 130.4L414.3 130.7L414.1 131.4L413.8 132.0L413.4 132.4L412.7 132.4L411.8 132.3L411.2 132.4L410.7 132.8L410.3 133.2L409.9 133.6L409.6 134.1L409.1 134.4L408.9 135.1L408.7 135.7L408.4 136.3L408.1 136.8L407.6 137.2L407.1 137.4L406.7 137.8L406.0 137.8L405.3 137.9L405.1 138.5L404.7 138.9L404.0 138.9L403.8 139.5L403.6 140.2L403.1 140.4L402.6 140.7L402.2 141.0L401.6 141.1L400.9 141.1L400.6 141.6L400.3 142.2L400.1 142.9L400.1 143.8L399.7 144.2L399.0 144.1L398.4 144.3L398.0 144.6L397.4 144.8L397.1 145.3L396.8 145.8L396.3 146.1L395.8 146.5L395.7 147.2L395.0 147.3L394.2 147.1L393.7 147.4L393.2 147.7L392.6 147.9L392.3 148.4L392.0 148.9L391.6 149.3L391.0 149.6L390.3 149.5L389.7 149.7L389.3 150.2L388.9 150.5L388.3 150.7L387.7 150.9L387.3 151.4L387.0 151.9L386.6 152.3L386.2 152.8L385.9 153.3L385.5 153.7L385.2 154.3L384.8 154.8L384.3 155.0L384.1 155.8L383.9 156.5L383.5 156.8L383.0 157.2L382.5 157.6L381.7 157.5L380.9 157.5L380.5 158.0L379.8 158.2L379.2 158.5L378.9 159.1L378.1 159.2L377.6 159.6L377.7 160.6L377.3 161.2L376.7 161.4L376.6 162.2L376.4 162.9L375.7 162.9L375.3 163.3L375.0 163.9L374.3 163.9L373.4 163.7L372.9 163.9L372.6 164.5L372.2 164.9L371.7 165.1L371.2 165.5L370.7 165.7L370.2 166.0L369.9 166.5L369.6 167.1L369.4 167.7L369.1 168.3L368.6 168.6L367.8 168.4L367.0 168.4L366.7 169.0L366.4 169.5L365.9 169.8L365.3 170.0L365.0 170.6L364.7 171.1L364.2 171.4L363.8 171.9L363.2 171.9L362.6 172.2L362.3 172.8L361.8 173.0L361.1 173.1L360.8 173.6L360.3 174.0L359.9 174.4L359.6 174.9L359.1 175.2L358.7 175.7L358.5 176.4L358.1 176.8L357.6 177.2L357.5 177.9L357.3 178.6L356.7 178.8L355.7 178.6L355.1 178.9L354.8 179.4L354.1 179.5L353.8 180.1L353.5 180.8L352.9 181.0L352.4 181.4L351.8 181.7L351.5 182.3L351.4 183.1L351.0 183.6L350.5 184.0L349.8 184.1L349.3 184.5L349.0 185.1L348.7 185.7L348.4 186.3L348.1 186.9L347.7 187.4L347.0 187.6L346.2 187.7L345.9 188.2L345.5 188.7L344.8 188.9L344.3 189.3L344.3 190.2L343.9 190.7L343.1 190.7L342.5 191.1L342.1 191.6L341.7 192.1L341.2 192.5L340.5 192.8L340.0 193.2L339.7 193.8L339.5 194.4L339.1 195.0L338.7 195.4L338.2 195.8L337.7 196.1L337.3 196.6L337.1 197.2L336.7 197.7L336.0 197.8L335.4 198.0L335.0 198.4L334.5 198.8L334.2 199.3L333.9 199.8L333.3 200.1L333.0 200.6L332.7 201.2L332.2 201.4L331.4 201.5L330.8 201.6L330.3 202.0L329.9 202.4L329.7 203.1L329.4 203.6L328.9 203.9L328.3 204.2L327.9 204.6L327.5 205.0L327.0 205.3L326.6 205.7L326.3 206.2L325.9 206.5L325.6 207.0L325.2 207.4L324.6 207.5L324.1 207.7L323.6 208.0L323.0 208.1L322.6 208.4L322.1 208.7L321.6 208.8L321.2 209.1L320.8 209.6L320.4 209.9L319.9 210.2L319.5 210.5L319.1 210.9L318.7 211.3L318.3 211.8L317.9 212.1L317.4 212.3L316.9 212.6L316.4 212.9L315.9 213.0L315.6 213.5L315.2 213.9L314.6 214.1L314.1 214.3L313.6 214.7L313.1 215.1L312.5 215.3L312.1 215.8L311.8 216.5L311.2 216.8L310.6 217.1L310.3 217.7L309.9 218.2L309.3 218.5L308.9 218.9L308.6 219.5L308.2 219.9L307.9 220.4L307.5 220.9L307.1 221.3L306.8 221.7L306.3 221.9L305.8 222.1L305.5 222.4L305.1 222.7L304.6 222.9L304.2 223.2L303.7 223.3L303.3 223.6L302.9 224.1L302.5 224.3L301.9 224.6L301.6 225.2L301.1 225.6L300.3 225.6L299.6 225.8L299.1 226.2L298.7 226.7L298.3 227.2L298.0 227.6L297.5 227.9L297.2 228.2L296.9 228.5L296.6 228.7L296.2 229.0L295.8 229.3L295.5 229.6L295.0 229.7L294.5 229.7L294.1 229.8L293.6 229.9L293.1 229.9L292.7 230.2L292.3 230.6L291.8 230.8L291.3 230.9L290.8 231.3L290.4 231.7L289.9 232.0L289.4 232.2L288.9 232.6L288.3 232.9L287.8 233.4L287.2 233.8L286.6 234.2L286.3 234.7L286.0 235.3L285.6 235.7L285.1 235.9L284.6 236.1L284.3 236.3L283.9 236.6L283.5 236.8L283.1 237.0L282.7 237.3L282.3 237.6L281.8 237.8L281.4 237.9L281.0 238.1L280.6 238.4L280.1 238.6L279.7 238.8L279.3 239.1L278.9 239.3L278.4 239.5L278.0 239.7L277.5 239.9L277.1 240.1L276.6 240.3L276.2 240.6L275.7 240.8L275.3 241.1L274.8 241.4L274.4 241.7L273.9 242.0L273.4 242.1L272.9 242.3L272.4 242.5L271.9 242.8L271.5 243.1L271.0 243.5L270.5 243.8L270.0 244.0L269.6 244.4L269.2 244.8L268.7 245.1L268.2 245.3L267.8 245.6L267.3 245.9L266.9 246.2L266.4 246.6L266.0 247.0L265.6 247.3L265.1 247.5L264.6 247.8L264.3 248.1L263.8 248.4L263.3 248.6L262.9 248.9L262.6 249.3L262.2 249.6L261.8 249.8L261.3 250.0L260.9 250.2L260.5 250.4L260.1 250.5L259.7 250.7L259.3 251.0L259.0 251.3L258.5 251.4L258.1 251.5L257.6 251.6L257.2 251.9L256.8 252.1L256.4 252.2L255.9 252.3L255.5 252.5L255.1 252.7L254.6 252.9L254.1 253.0L253.7 253.2L253.2 253.4L252.8 253.5L252.3 253.7L251.8 253.8L251.4 254.1L250.9 254.3L250.5 254.5L250.0 254.7L249.6 255.0L249.2 255.2L248.7 255.4L248.3 255.5L247.8 255.7L247.3 255.9L246.9 256.1L246.4 256.2L246.0 256.4Z" fill="#a020f0"/>
<rect x="52.90" y="281.90" width="3.00" height="3.00" stroke="#a020f0" stroke-width="0.9" fill="none"/>
<rect x="84.30" y="281.80" width="3.00" height="3.00" stroke="#a020f0" stroke-width="0.9" fill="none"/>
<rect x="102.67" y="281.21" width="3.00" height="3.00" stroke="#a020f0" stroke-width="0.9" fill="none"/>
<rect x="115.70" y="280.62" width="3.00" height="3.00" stroke="#a020f0" stroke-width="0.9" fill="none"/>
<rect x="125.81" y="280.11" width="3.00" height="3.00" stroke="#a020f0" stroke-width="0.9" fill="none"/>
<rect x="134.06" y="279.74" width="3.00" height="3.00" stroke="#a020f0" stroke-width="0.9" fill="none"/>
<rect x="141.05" y="279.42" width="3.00" height="3.00" stroke="#a020f0" stroke-width="0.9" fill="none"/>
<rect x="147.09" y="279.06" width="3.00" height="3.00" stroke="#a020f0" stroke-width="0.9" fill="none"/>
<rect x="152.43" y="278.55" width="3.00" height="3.00" stroke="#a020f0" stroke-width="0.9" fill="none"/>
<rect x="157.20" y="277.90" width="3.00" height="3.00" stroke="#a020f0" stroke-width="0.9" fill="none"/>
<rect x="161.52" y="277.22" width="3.00" height="3.00" stroke="#a020f0" stroke-width="0.9" fill="none"/>
<rect x="165.46" y="276.58" width="3.00" height="3.00" stroke="#a020f0" stroke-width="0.9" fill="none"/>
<rect x="169.09" y="276.01" width="3.00" height="3.00" stroke="#a020f0" stroke-width="0.9" fill="none"/>
<rect x="172.44" y="275.51" width="3.00" height="3.00" stroke="#a020f0" stroke-width="0.9" fill="none"/>
<rect x="175.57" y="275.03" width="3.00" height="3.00" stroke="#a020f0" stroke-width="0.9" fill="none"/>
<rect x="178.49" y="274.58" width="3.00" height="3.00" stroke="#a020f0" stroke-width="0.9" fill="none"/>
<rect x="181.24" y="274.13" width="3.00" height="3.00" stroke="#a020f0" stroke-width="0.9" fill="none"/>
<rect x="183.83" y="273.69" width="3.00" height="3.00" stroke="#a020f0" stroke-width="0.9" fill="none"/>
<rect x="186.28" y="273.24" width="3.00" height="3.00" stroke="#a020f0" stroke-width="0.9" fill="none"/>
<rect x="188.60" y="272.78" width="3.00" height="3.00" stroke="#a020f0" stroke-width="0.9" fill="none"/>
<rect x="190.81" y="272.28" width="3.00" height="3.00" stroke="#a020f0" stroke-width="0.9" fill="none"/>
<rect x="192.92" y="271.75" width="3.00" height="3.00" stroke="#a020f0" stroke-width="0.9" fill="none"/>
<rect x="194.93" y="271.20" width="3.00" height="3.00" stroke="#a020f0" stroke-width="0.9" fill="none"/>
<rect x="196.86" y="270.67" width="3.00" height="3.00" stroke="#a020f0" stroke-width="0.9" fill="none"/>
<rect x="198.71" y="270.18" width="3.00" height="3.00" stroke="#a020f0" stroke-width="0.9" fill="none"/>
<rect x="200.48" y="269.74" width="3.00" height="3.00" stroke="#a020f0" stroke-width="0.9" fill="none"/>
<rect x="202.19" y="269.35" width="3.00" height="3.00" stroke="#a020f0" stroke-width="0.9" fill="none"/>
<rect x="203.84" y="269.00" width="3.00" height="3.00" stroke="#a020f0" stroke-width="0.9" fill="none"/>
<rect x="205.43" y="268.69" width="3.00" height="3.00" stroke="#a020f0" stroke-width="0.9" fill="none"/>
<rect x="206.97" y="268.39" width="3.00" height="3.00" stroke="#a020f0" stroke-width="0.9" fill="none"/>
<rect x="208.45" y="268.11" width="3.00" height="3.00" stroke="#a020f0" stroke-width="0.9" fill="none"/>
<rect x="209.89" y="267.84" width="3.00" height="3.00" stroke="#a020f0" stroke-width="0.9" fill="none"/>
<rect x="211.28" y="267.57" width="3.00" height="3.00" stroke="#a020f0" stroke-width="0.9" fill="none"/>
<rect x="212.64" y="267.29" width="3.00" height="3.00" stroke="#a020f0" stroke-width="0.9" fill="none"/>
<rect x="213.95" y="267.01" width="3.00" height="3.00" stroke="#a020f0" stroke-width="0.9" fill="none"/>
<rect x="215.22" y="266.73" width="3.00" height="3.00" stroke="#a020f0" stroke-width="0.9" fill="none"/>
<rect x="216.47" y="266.45" width="3.00" height="3.00" stroke="#a020f0" stroke-width="0.9" fill="none"/>
<rect x="217.67" y="266.17" width="3.00" height="3.00" stroke="#a020f0" stroke-width="0.9" fill="none"/>
<rect x="218.85" y="265.89" width="3.00" height="3.00" stroke="#a020f0" stroke-width="0.9" fill="none"/>
<rect x="220.00" y="265.62" width="3.00" height="3.00" stroke="#a020f0" stroke-width="0.9" fill="none"/>
<rect x="221.12" y="265.34" width="3.00" height="3.00" stroke="#a020f0" stroke-width="0.9" fill="none"/>
<rect x="222.21" y="265.07" width="3.00" height="3.00" stroke="#a020f0" stroke-width="0.9" fill="none"/>
<rect x="223.27" y="264.79" width="3.00" height="3.00" stroke="#a020f0" stroke-width="0.9" fill="none"/>
<rect x="224.31" y="264.51" width="3.00" height="3.00" stroke="#a020f0" stroke-width="0.9" fill="none"/>
<rect x="225.33" y="264.23" width="3.00" height="3.00" stroke="#a020f0" stroke-width="0.9" fill="none"/>
<rect x="226.33" y="263.95" width="3.00" height="3.00" stroke="#a020f0" stroke-width="0.9" fill="none"/>
<rect x="227.30" y="263.66" width="3.00" height="3.00" stroke="#a020f0" stroke-width="0.9" fill="none"/>
<rect x="228.26" y="263.37" width="3.00" height="3.00" stroke="#a020f0" stroke-width="0.9" fill="none"/>
<rect x="229.19" y="263.07" width="3.00" height="3.00" stroke="#a020f0" stroke-width="0.9" fill="none"/>
<rect x="230.11" y="262.77" width="3.00" height="3.00" stroke="#a020f0" stroke-width="0.9" fill="none"/>
<rect x="231.00" y="262.46" width="3.00" height="3.00" stroke="#a020f0" stroke-width="0.9" fill="none"/>
<rect x="231.88" y="262.16" width="3.00" height="3.00" stroke="#a020f0" stroke-width="0.9" fill="none"/>
<rect x="232.74" y="261.85" width="3.00" height="3.00" stroke="#a020f0" stroke-width="0.9" fill="none"/>
<rect x="233.59" y="261.55" width="3.00" height="3.00" stroke="#a020f0" stroke-width="0.9" fill="none"/>
<rect x="234.42" y="261.24" width="3.00" height="3.00" stroke="#a020f0" stroke-width="0.9" fill="none"/>
<rect x="235.24" y="260.94" width="3.00" height="3.00" stroke="#a020f0" stroke-width="0.9" fill="none"/>
<rect x="236.04" y="260.64" width="3.00" height="3.00" stroke="#a020f0" stroke-width="0.9" fill="none"/>
<rect x="236.83" y="260.35" width="3.00" height="3.00" stroke="#a020f0" stroke-width="0.9" fill="none"/>
<rect x="237.60" y="260.06" width="3.00" height="3.00" stroke="#a020f0" stroke-width="0.9" fill="none"/>
<rect x="238.36" y="259.77" width="3.00" height="3.00" stroke="#a020f0" stroke-width="0.9" fill="none"/>
<rect x="239.11" y="259.50" width="3.00" height="3.00" stroke="#a020f0" stroke-width="0.9" fill="none"/>
<rect x="239.85" y="259.22" width="3.00" height="3.00" stroke="#a020f0" stroke-width="0.9" fill="none"/>
<rect x="240.57" y="258.94" width="3.00" height="3.00" stroke="#a020f0" stroke-width="0.9" fill="none"/>
<rect x="241.29" y="258.66" width="3.00" height="3.00" stroke="#a020f0" stroke-width="0.9" fill="none"/>
<rect x="241.99" y="258.38" width="3.00" height="3.00" stroke="#a020f0" stroke-width="0.9" fill="none"/>
<rect x="242.68" y="258.10" width="3.00" height="3.00" stroke="#a020f0" stroke-width="0.9" fill="none"/>
<rect x="243.36" y="257.83" width="3.00" height="3.00" stroke="#a020f0" stroke-width="0.9" fill="none"/>
<rect x="244.03" y="257.55" width="3.00" height="3.00" stroke="#a020f0" stroke-width="0.9" fill="none"/>
<rect x="244.69" y="257.28" width="3.00" height="3.00" stroke="#a020f0" stroke-width="0.9" fill="none"/>
<rect x="245.35" y="257.02" width="3.00" height="3.00" stroke="#a020f0" stroke-width="0.9" fill="none"/>
</g>
<g>
<path d="M248.0 256.2L248.4 256.0L248.9 255.8L249.3 255.5L249.8 255.3L250.3 255.1L250.7 254.9L251.2 254.6L251.6 254.4L252.1 254.1L252.6 253.9L253.0 253.6L253.5 253.4L253.9 253.1L254.4 252.8L254.9 252.6L255.3 252.3L255.8 252.1L256.2 251.8L256.7 251.5L257.2 251.3L257.6 251.0L258.1 250.7L258.5 250.4L259.0 250.2L259.4 249.9L259.9 249.6L260.4 249.4L260.8 249.1L261.3 248.8L261.8 248.6L262.2 248.3L262.7 248.1L263.1 247.7L263.6 247.5L264.1 247.3L264.5 247.0L265.0 246.7L265.5 246.5L265.9 246.2L266.3 245.8L266.8 245.5L267.2 245.2L267.7 245.0L268.1 244.7L268.5 244.3L269.0 244.0L269.4 243.7L269.9 243.4L270.3 243.1L270.8 242.8L271.2 242.5L271.8 242.3L272.2 242.0L272.7 241.7L273.1 241.4L273.7 241.2L274.1 240.9L274.5 240.5L274.9 240.1L275.4 239.8L275.9 239.5L276.3 239.2L276.8 239.0L277.3 238.7L277.7 238.3L278.1 237.9L278.5 237.6L279.0 237.3L279.5 237.0L279.9 236.7L280.4 236.4L280.9 236.1L281.4 235.8L281.8 235.5L282.2 235.1L282.6 234.7L283.1 234.4L283.6 234.1L284.0 233.7L284.5 233.3L285.0 233.0L285.5 232.7L285.9 232.4L286.4 232.0L286.9 231.7L287.4 231.4L288.0 231.1L288.5 230.6L288.9 230.1L289.4 229.6L289.9 229.2L290.3 228.8L290.7 228.3L291.1 227.8L291.4 227.4L291.8 227.1L292.2 226.7L292.6 226.4L293.1 226.1L293.5 225.7L293.9 225.3L294.3 224.9L294.9 224.6L295.4 224.2L295.9 223.8L296.3 223.3L296.8 222.8L297.3 222.4L297.8 222.0L298.3 221.5L298.7 221.1L299.3 220.7L299.8 220.3L300.2 219.8L300.6 219.2L301.1 218.9L301.7 218.6L302.1 218.2L302.5 217.6L302.8 217.1L303.2 216.6L303.7 216.2L304.2 215.8L304.6 215.3L305.0 214.8L305.4 214.4L306.0 214.0L306.3 213.5L306.7 213.0L307.2 212.7L307.8 212.3L308.2 211.8L308.6 211.3L309.0 210.8L309.5 210.4L309.8 209.9L310.2 209.4L310.9 209.2L311.5 208.9L311.8 208.3L312.1 207.8L312.7 207.5L313.3 207.2L313.8 206.8L314.1 206.1L314.5 205.6L315.1 205.2L315.7 204.9L316.3 204.4L316.7 203.9L317.0 203.1L317.5 202.5L318.1 202.0L318.7 201.4L319.1 200.6L319.4 199.9L319.8 199.2L320.3 198.6L320.9 198.2L321.4 197.7L321.7 197.0L322.0 196.4L322.3 195.7L322.6 195.1L323.2 194.6L323.6 194.1L324.0 193.6L324.5 193.1L325.0 192.7L325.5 192.2L326.0 191.7L326.4 191.2L326.9 190.7L327.4 190.3L327.9 189.8L328.2 189.2L328.7 188.8L329.2 188.4L329.7 187.9L330.2 187.5L330.9 187.2L331.5 186.9L331.9 186.3L332.1 185.6L332.4 184.9L332.9 184.5L333.5 184.1L333.9 183.6L334.2 183.0L334.7 182.5L335.2 182.1L335.6 181.6L336.1 181.2L336.5 180.7L336.8 180.1L337.3 179.7L337.8 179.2L338.1 178.6L338.4 178.1L339.0 177.7L339.7 177.4L340.2 176.9L340.6 176.3L340.9 175.7L341.4 175.2L341.8 174.6L342.1 173.9L342.6 173.3L343.3 172.9L343.8 172.4L344.2 171.7L344.8 171.2L345.5 170.8L346.0 170.2L346.3 169.5L347.0 169.0L347.6 168.5L348.0 167.8L348.2 166.9L348.4 166.2L349.0 165.6L349.4 164.9L349.6 164.2L350.3 163.7L351.0 163.2L351.5 162.5L351.8 161.8L352.0 160.9L352.2 160.1L352.6 159.5L353.2 158.8L353.7 158.2L354.1 157.5L354.6 156.9L355.2 156.3L355.8 155.8L356.6 155.4L357.0 154.6L356.9 153.7L357.2 152.8L357.6 152.2L358.1 151.6L358.8 151.0L359.1 150.3L359.5 149.6L360.1 149.1L360.7 148.6L361.1 147.9L361.6 147.3L362.2 146.8L362.7 146.2L363.2 145.6L363.5 144.9L363.8 144.2L364.3 143.6L364.8 143.1L365.5 142.6L365.9 142.0L366.3 141.4L366.8 140.8L367.2 140.2L367.8 139.7L368.1 139.0L368.3 138.1L368.7 137.5L369.2 136.9L369.8 136.3L370.2 135.7L370.7 135.1L371.1 134.4L371.6 133.9L372.0 133.2L372.2 132.4L372.8 131.8L373.0 131.0L373.2 130.2L373.8 129.7L374.6 129.3L375.1 128.7L375.6 128.0L376.2 127.5L376.8 126.9L377.2 126.2L377.6 125.5L377.8 124.6L378.1 123.9L378.7 123.4L379.3 122.9L379.6 122.2L379.7 121.4L380.1 120.8L380.7 120.4L381.1 119.9L381.4 119.2L382.0 118.8L382.7 118.5L383.2 118.0L383.7 117.6L384.1 117.0L384.2 116.3L384.8 115.8L385.6 115.6L386.2 115.2L386.5 114.5L386.4 113.5L387.0 113.0L387.8 112.8L388.4 112.4L388.8 111.7L388.8 110.8L389.1 110.1L389.7 109.7L390.3 109.3L390.8 108.8L391.5 108.5L392.1 108.1L392.2 107.3L392.2 106.4L392.9 106.1L393.5 105.7L393.7 105.0L394.2 104.5L394.9 104.2L395.5 103.8L395.9 103.3L396.2 102.7L396.5 102.0L397.0 101.6L397.6 101.2L398.1 100.7L398.6 100.3L398.9 99.6L399.2 99.0L399.7 98.7L400.3 98.3L400.7 97.8L401.2 97.3L401.7 96.9L402.1 96.4L402.2 95.6L402.6 95.0L403.1 94.5L403.4 93.9L403.7 93.2L404.2 92.7L404.8 92.2L405.2 91.6L405.6 91.0L406.2 90.4L407.1 90.1L407.9 89.7L408.3 89.1L408.3 88.2L408.6 87.4L409.2 86.9L409.7 86.3L410.3 85.8L410.9 85.3L411.3 84.7L411.9 84.2L412.6 83.8L413.3 83.3L413.4 82.4L413.4 81.5L413.8 80.8L414.1 80.1L414.4 79.4L414.6 78.6L415.1 78.1L415.8 77.7L416.0 77.0L416.3 76.4L416.7 75.9L417.4 75.6L417.9 75.3L418.0 74.6L418.5 74.2L419.0 74.0L419.3 73.4L420.0 73.2L420.7 73.1L421.1 72.6L421.3 71.9L421.7 71.3L422.1 70.8L422.7 70.4L423.6 70.2L424.4 69.8L424.8 69.1L425.0 68.2L425.5 67.5L426.1 66.9L426.3 66.1L426.8 65.5L427.4 64.8L427.7 64.1L428.2 63.5L428.7 63.0L428.9 62.2L429.2 61.6L429.8 61.2L430.3 60.7L430.7 60.2L431.3 59.8L431.6 59.3L431.9 58.7L432.3 58.2L432.6 57.7L433.2 57.4L433.9 57.2L429.2 52.5L428.6 52.8L428.1 53.3L427.8 54.0L427.4 54.6L426.9 55.1L426.2 55.4L425.4 55.7L425.0 56.3L424.2 56.8L423.4 57.2L423.3 58.1L423.2 59.0L422.6 59.6L422.2 60.4L422.2 61.3L421.6 61.9L421.0 62.5L420.6 63.1L420.1 63.6L419.4 64.0L419.0 64.4L418.6 65.0L418.0 65.2L417.5 65.4L417.2 66.0L416.8 66.4L416.3 66.7L416.1 67.2L415.9 68.0L415.7 68.6L415.3 69.1L414.5 69.3L413.9 69.5L413.6 70.3L413.3 71.0L412.7 71.4L412.2 72.1L412.0 72.8L411.5 73.4L410.8 73.8L410.4 74.5L410.3 75.4L410.0 76.2L409.4 76.7L408.6 77.1L408.0 77.5L407.5 78.1L406.9 78.7L406.4 79.2L405.7 79.6L404.9 79.9L404.5 80.6L404.4 81.5L404.0 82.2L403.4 82.7L403.2 83.5L403.1 84.3L402.6 85.0L402.2 85.5L401.6 86.0L401.1 86.5L401.2 87.5L400.8 88.0L399.8 88.1L399.6 88.8L399.4 89.5L398.9 89.9L398.5 90.4L397.9 90.7L397.6 91.3L397.2 91.8L396.6 92.1L395.9 92.4L395.3 92.7L394.9 93.3L394.6 94.0L394.3 94.6L393.9 95.1L393.4 95.6L393.0 96.2L392.6 96.7L392.0 97.1L391.4 97.5L391.1 98.1L390.9 98.9L390.5 99.5L389.8 99.8L389.0 99.9L388.6 100.6L388.4 101.3L387.7 101.6L387.2 102.1L386.7 102.7L386.2 103.1L385.8 103.7L385.6 104.5L385.1 105.0L384.6 105.5L384.1 106.1L383.6 106.6L383.1 107.0L382.7 107.6L382.3 108.2L381.8 108.7L381.4 109.3L380.9 109.8L380.4 110.3L380.1 110.9L379.8 111.5L379.2 111.9L378.6 112.3L378.2 112.8L377.7 113.4L377.1 113.7L376.7 114.4L376.5 115.2L376.0 115.7L375.5 116.2L374.8 116.7L374.2 117.3L373.9 118.0L373.2 118.6L372.5 119.1L372.2 119.8L371.8 120.6L371.4 121.3L371.0 122.0L370.7 122.8L370.4 123.5L369.7 124.0L369.2 124.5L369.0 125.3L368.5 125.9L367.9 126.4L367.3 127.0L366.9 127.6L366.6 128.4L366.5 129.2L365.9 129.8L365.3 130.3L364.8 130.9L364.5 131.6L364.3 132.4L364.0 133.1L363.5 133.7L363.2 134.4L362.8 135.0L362.2 135.5L361.7 136.0L361.4 136.7L360.8 137.3L360.1 137.7L359.6 138.2L359.1 138.8L358.7 139.4L358.3 140.1L357.9 140.8L357.3 141.4L356.9 142.0L356.4 142.7L356.1 143.4L355.8 144.2L355.3 144.8L354.7 145.3L354.2 146.0L353.7 146.6L353.4 147.4L353.1 148.1L352.5 148.7L351.9 149.3L351.6 150.0L351.2 150.7L350.7 151.3L350.5 152.2L350.2 153.0L349.5 153.4L348.8 153.9L348.5 154.7L348.3 155.5L347.8 156.1L347.2 156.7L347.0 157.5L346.9 158.4L346.3 158.9L345.5 159.3L344.9 159.9L344.5 160.5L344.2 161.2L343.9 162.0L343.6 162.7L343.2 163.4L342.4 163.8L341.9 164.4L341.6 165.1L341.1 165.7L340.8 166.3L340.5 167.0L340.2 167.8L339.8 168.3L339.0 168.6L338.4 169.0L338.2 169.7L338.0 170.4L337.3 170.8L336.7 171.1L336.4 171.7L336.0 172.2L335.5 172.6L335.1 173.1L334.5 173.5L334.0 173.9L333.7 174.4L333.3 174.9L332.9 175.4L332.4 175.9L331.9 176.3L331.4 176.8L330.9 177.2L330.4 177.7L329.9 178.1L329.5 178.7L329.4 179.5L329.0 180.0L328.3 180.3L327.7 180.7L327.4 181.3L327.3 182.1L326.7 182.5L326.0 182.7L325.6 183.3L325.3 183.8L324.6 184.2L324.0 184.5L323.7 185.1L323.4 185.7L322.8 186.2L322.2 186.5L321.7 187.0L321.1 187.4L320.6 187.9L320.3 188.6L320.0 189.2L319.5 189.7L319.0 190.3L318.6 190.8L318.1 191.4L317.8 192.0L317.6 192.8L317.1 193.4L316.4 193.8L315.9 194.4L315.4 195.1L314.9 195.7L314.2 196.3L313.7 196.9L313.6 197.7L313.4 198.4L313.1 198.9L312.6 199.4L312.2 199.8L311.5 200.1L311.0 200.4L310.7 201.1L310.4 201.6L309.9 201.9L309.5 202.4L309.2 203.0L308.8 203.5L308.4 203.9L307.8 204.2L307.2 204.5L306.8 204.9L306.4 205.5L306.0 206.0L305.4 206.3L304.9 206.7L304.5 207.1L304.1 207.7L303.7 208.1L303.2 208.5L302.7 208.9L302.2 209.3L301.8 209.7L301.5 210.3L301.0 210.7L300.5 211.1L300.2 211.7L299.7 212.1L299.2 212.5L298.8 213.0L298.4 213.5L298.1 214.1L297.6 214.5L297.0 214.8L296.3 215.0L295.8 215.5L295.5 216.0L295.0 216.5L294.6 217.0L294.1 217.4L293.7 217.8L293.4 218.3L293.0 218.8L292.6 219.2L292.1 219.5L291.7 219.9L291.3 220.2L290.9 220.5L290.5 220.9L290.1 221.2L289.6 221.5L289.2 221.9L288.6 222.3L288.1 222.7L287.7 223.2L287.2 223.7L286.7 224.1L286.2 224.5L285.9 225.0L285.4 225.5L284.9 225.8L284.5 226.2L284.2 226.6L283.8 226.9L283.3 227.2L282.9 227.6L282.5 228.0L282.1 228.4L281.6 228.7L281.2 229.0L280.7 229.3L280.3 229.6L279.9 230.0L279.4 230.3L278.9 230.6L278.4 230.8L278.0 231.2L277.6 231.5L277.1 231.7L276.7 232.1L276.3 232.5L275.9 232.8L275.4 233.1L275.0 233.5L274.6 233.8L274.1 234.1L273.7 234.4L273.2 234.7L272.7 235.0L272.2 235.2L271.8 235.5L271.4 235.9L271.0 236.3L270.5 236.6L270.1 236.8L269.6 237.0L269.1 237.3L268.7 237.7L268.3 238.0L267.8 238.2L267.3 238.5L267.0 238.9L266.5 239.2L266.1 239.5L265.6 239.7L265.1 240.0L264.7 240.3L264.3 240.7L263.9 240.9L263.4 241.2L263.0 241.5L262.5 241.8L262.1 242.1L261.6 242.4L261.2 242.6L260.7 242.9L260.3 243.2L259.9 243.5L259.4 243.8L258.9 244.0L258.4 244.2L258.0 244.5L257.6 244.8L257.1 245.1L256.7 245.4L256.3 245.7L255.8 246.0L255.4 246.3L254.9 246.6L254.5 246.8L254.0 247.1L253.6 247.3L253.1 247.6L252.7 247.9L252.3 248.2L251.8 248.4L251.4 248.7L251.0 248.9L250.5 249.2L250.1 249.4L249.7 249.7L249.2 249.9L248.8 250.2L248.4 250.5L247.9 250.7L247.5 250.9L247.0 251.2L246.6 251.4L246.2 251.6L245.7 251.9Z" fill="#00ff00"/>
<rect x="52.70" y="281.60" width="3.40" height="3.40" fill="#00ff00"/>
<rect x="84.10" y="281.30" width="3.40" height="3.40" fill="#00ff00"/>
<rect x="102.47" y="280.61" width="3.40" height="3.40" fill="#00ff00"/>
<rect x="115.50" y="280.01" width="3.40" height="3.40" fill="#00ff00"/>
<rect x="125.61" y="279.31" width="3.40" height="3.40" fill="#00ff00"/>
<rect x="133.86" y="278.71" width="3.40" height="3.40" fill="#00ff00"/>
<rect x="140.85" y="278.06" width="3.40" height="3.40" fill="#00ff00"/>
<rect x="146.89" y="277.75" width="3.40" height="3.40" fill="#00ff00"/>
<rect x="152.23" y="277.23" width="3.40" height="3.40" fill="#00ff00"/>
<rect x="157.00" y="276.51" width="3.40" height="3.40" fill="#00ff00"/>
<rect x="161.32" y="275.75" width="3.40" height="3.40" fill="#00ff00"/>
<rect x="165.26" y="275.05" width="3.40" height="3.40" fill="#00ff00"/>
<rect x="168.89" y="274.46" width="3.40" height="3.40" fill="#00ff00"/>
<rect x="172.24" y="273.95" width="3.40" height="3.40" fill="#00ff00"/>
<rect x="175.37" y="273.49" width="3.40" height="3.40" fill="#00ff00"/>
<rect x="178.29" y="273.05" width="3.40" height="3.40" fill="#00ff00"/>
<rect x="181.04" y="272.63" width="3.40" height="3.40" fill="#00ff00"/>
<rect x="183.63" y="272.21" width="3.40" height="3.40" fill="#00ff00"/>
<rect x="186.08" y="271.80" width="3.40" height="3.40" fill="#00ff00"/>
<rect x="188.40" y="271.38" width="3.40" height="3.40" fill="#00ff00"/>
<rect x="190.61" y="270.96" width="3.40" height="3.40" fill="#00ff00"/>
<rect x="192.72" y="270.53" width="3.40" height="3.40" fill="#00ff00"/>
<rect x="194.73" y="270.11" width="3.40" height="3.40" fill="#00ff00"/>
<rect x="196.66" y="269.68" width="3.40" height="3.40" fill="#00ff00"/>
<rect x="198.51" y="269.26" width="3.40" height="3.40" fill="#00ff00"/>
<rect x="200.28" y="268.84" width="3.40" height="3.40" fill="#00ff00"/>
<rect x="201.99" y="268.43" width="3.40" height="3.40" fill="#00ff00"/>
<rect x="203.64" y="268.02" width="3.40" height="3.40" fill="#00ff00"/>
<rect x="205.23" y="267.62" width="3.40" height="3.40" fill="#00ff00"/>
<rect x="206.77" y="267.21" width="3.40" height="3.40" fill="#00ff00"/>
<rect x="208.25" y="266.81" width="3.40" height="3.40" fill="#00ff00"/>
<rect x="209.69" y="266.41" width="3.40" height="3.40" fill="#00ff00"/>
<rect x="211.08" y="266.01" width="3.40" height="3.40" fill="#00ff00"/>
<rect x="212.44" y="265.61" width="3.40" height="3.40" fill="#00ff00"/>
<rect x="213.75" y="265.22" width="3.40" height="3.40" fill="#00ff00"/>
<rect x="215.02" y="264.82" width="3.40" height="3.40" fill="#00ff00"/>
<rect x="216.27" y="264.42" width="3.40" height="3.40" fill="#00ff00"/>
<rect x="217.47" y="264.02" width="3.40" height="3.40" fill="#00ff00"/>
<rect x="218.65" y="263.61" width="3.40" height="3.40" fill="#00ff00"/>
<rect x="219.80" y="263.21" width="3.40" height="3.40" fill="#00ff00"/>
<rect x="220.92" y="262.81" width="3.40" height="3.40" fill="#00ff00"/>
<rect x="222.01" y="262.42" width="3.40" height="3.40" fill="#00ff00"/>
<rect x="223.07" y="262.02" width="3.40" height="3.40" fill="#00ff00"/>
<rect x="224.11" y="261.63" width="3.40" height="3.40" fill="#00ff00"/>
<rect x="225.13" y="261.25" width="3.40" height="3.40" fill="#00ff00"/>
<rect x="226.13" y="260.87" width="3.40" height="3.40" fill="#00ff00"/>
<rect x="227.10" y="260.49" width="3.40" height="3.40" fill="#00ff00"/>
<rect x="228.06" y="260.11" width="3.40" height="3.40" fill="#00ff00"/>
<rect x="228.99" y="259.73" width="3.40" height="3.40" fill="#00ff00"/>
<rect x="229.91" y="259.36" width="3.40" height="3.40" fill="#00ff00"/>
<rect x="230.80" y="258.98" width="3.40" height="3.40" fill="#00ff00"/>
<rect x="231.68" y="258.61" width="3.40" height="3.40" fill="#00ff00"/>
<rect x="232.54" y="258.24" width="3.40" height="3.40" fill="#00ff00"/>
<rect x="233.39" y="257.88" width="3.40" height="3.40" fill="#00ff00"/>
<rect x="234.22" y="257.51" width="3.40" height="3.40" fill="#00ff00"/>
<rect x="235.04" y="257.15" width="3.40" height="3.40" fill="#00ff00"/>
<rect x="235.84" y="256.80" width="3.40" height="3.40" fill="#00ff00"/>
<rect x="236.63" y="256.44" width="3.40" height="3.40" fill="#00ff00"/>
<rect x="237.40" y="256.09" width="3.40" height="3.40" fill="#00ff00"/>
<rect x="238.16" y="255.74" width="3.40" height="3.40" fill="#00ff00"/>
<rect x="238.91" y="255.39" width="3.40" height="3.40" fill="#00ff00"/>
<rect x="239.65" y="255.05" width="3.40" height="3.40" fill="#00ff00"/>
<rect x="240.37" y="254.71" width="3.40" height="3.40" fill="#00ff00"/>
<rect x="241.09" y="254.37" width="3.40" height="3.40" fill="#00ff00"/>
<rect x="241.79" y="254.04" width="3.40" height="3.40" fill="#00ff00"/>
<rect x="242.48" y="253.70" width="3.40" height="3.40" fill="#00ff00"/>
<rect x="243.16" y="253.37" width="3.40" height="3.40" fill="#00ff00"/>
<rect x="243.83" y="253.03" width="3.40" height="3.40" fill="#00ff00"/>
<rect x="244.49" y="252.70" width="3.40" height="3.40" fill="#00ff00"/>
<rect x="245.15" y="252.37" width="3.40" height="3.40" fill="#00ff00"/>
</g>
<g>
<path d="M248.2 239.6L248.6 239.3L249.1 239.0L249.5 238.7L250.0 238.3L250.4 238.0L250.9 237.7L251.4 237.4L251.8 237.0L252.3 236.7L252.7 236.3L253.2 236.0L253.6 235.7L254.1 235.4L254.5 235.0L255.0 234.7L255.5 234.4L255.9 234.0L256.4 233.7L256.8 233.3L257.3 233.0L257.8 232.6L258.2 232.3L258.7 231.9L259.2 231.5L259.6 231.2L260.1 230.8L260.6 230.4L261.0 230.0L261.5 229.6L261.9 229.2L262.4 228.8L262.9 228.4L263.3 228.0L263.7 227.6L264.2 227.3L264.6 226.9L265.0 226.5L265.5 226.1L266.0 225.8L266.4 225.4L266.9 225.0L267.3 224.7L267.8 224.3L268.2 223.9L268.7 223.5L269.1 223.1L269.6 222.8L270.1 222.5L270.5 222.1L270.9 221.7L271.4 221.3L271.8 220.9L272.3 220.5L272.7 220.2L273.2 219.8L273.6 219.4L274.1 219.0L274.5 218.6L275.0 218.2L275.4 217.8L275.9 217.4L276.3 217.1L276.8 216.7L277.2 216.3L277.7 215.9L278.1 215.5L278.6 215.1L279.0 214.6L279.5 214.2L280.0 213.8L280.4 213.3L280.9 212.9L281.4 212.4L281.8 212.0L282.3 211.5L282.8 211.1L283.2 210.6L283.6 210.1L284.1 209.6L284.6 209.1L285.0 208.6L285.5 208.1L286.0 207.7L286.4 207.2L286.9 206.7L287.4 206.2L287.9 205.8L288.3 205.2L288.7 204.7L289.2 204.2L289.7 203.7L290.1 203.1L290.6 202.6L291.0 202.0L291.4 201.5L291.9 201.0L292.3 200.4L292.7 199.9L293.2 199.4L293.7 199.0L294.2 198.4L294.6 197.9L295.0 197.4L295.5 196.9L296.0 196.4L296.4 195.8L296.8 195.3L297.3 194.8L297.8 194.3L298.3 193.8L298.6 193.2L299.0 192.6L299.5 192.1L300.0 191.6L300.5 191.1L300.9 190.6L301.3 190.0L301.7 189.4L302.1 188.9L302.6 188.4L303.1 187.9L303.6 187.3L304.0 186.8L304.5 186.3L304.9 185.7L305.4 185.2L305.9 184.7L306.4 184.2L306.9 183.7L307.3 183.1L307.7 182.5L308.2 182.0L308.7 181.5L309.1 180.9L309.6 180.4L310.1 179.8L310.5 179.2L310.9 178.7L311.3 178.1L311.7 177.5L312.2 176.9L312.6 176.3L313.1 175.8L313.6 175.2L314.0 174.6L314.4 174.0L314.8 173.4L315.3 172.8L315.8 172.3L316.3 171.7L316.7 171.1L317.2 170.6L317.6 170.0L318.0 169.4L318.4 168.8L318.9 168.2L319.4 167.7L319.9 167.2L320.3 166.5L320.7 165.9L321.2 165.3L321.6 164.8L322.1 164.2L322.4 163.5L322.8 162.9L323.4 162.4L323.9 161.9L324.3 161.2L324.8 160.7L325.2 160.1L325.6 159.4L326.1 158.8L326.6 158.3L327.0 157.7L327.4 157.1L327.9 156.5L328.3 155.9L328.7 155.3L329.2 154.7L329.7 154.2L330.2 153.7L330.6 153.1L331.1 152.6L331.6 152.1L332.0 151.5L332.5 151.0L333.0 150.5L333.6 150.0L334.0 149.5L334.5 148.9L334.8 148.2L335.3 147.7L335.7 147.1L336.2 146.5L336.6 145.9L337.1 145.3L337.5 144.7L338.0 144.1L338.4 143.5L338.8 142.8L339.2 142.2L339.6 141.5L340.0 140.9L340.5 140.3L341.0 139.7L341.5 139.1L342.0 138.5L342.6 138.0L343.0 137.4L343.5 136.8L343.8 136.1L344.2 135.3L344.7 134.8L345.2 134.2L345.6 133.5L346.0 132.8L346.5 132.2L346.9 131.5L347.3 130.9L347.7 130.2L348.2 129.6L348.7 128.9L349.1 128.3L349.8 127.8L350.4 127.2L350.7 126.5L351.1 125.8L351.5 125.1L351.9 124.5L352.4 123.9L353.0 123.3L353.4 122.6L353.8 121.9L354.3 121.3L354.8 120.7L355.1 120.0L355.6 119.3L356.1 118.7L356.5 118.0L356.9 117.3L357.4 116.7L357.9 116.1L358.4 115.5L358.7 114.8L359.2 114.1L359.8 113.6L360.3 113.0L360.6 112.2L361.0 111.5L361.5 111.0L362.1 110.4L362.5 109.7L362.8 109.0L363.4 108.4L363.9 107.9L364.2 107.2L364.5 106.4L364.9 105.8L365.4 105.2L365.8 104.5L366.2 103.9L366.7 103.3L367.2 102.7L367.7 102.1L368.1 101.5L368.4 100.8L368.8 100.2L369.4 99.7L369.9 99.1L370.4 98.6L370.7 97.8L370.9 97.1L371.5 96.6L372.0 96.0L372.5 95.4L372.9 94.8L373.4 94.3L374.0 93.8L374.7 93.3L375.1 92.7L375.4 92.0L375.9 91.4L376.3 90.8L376.7 90.2L377.1 89.5L377.6 88.9L378.1 88.4L378.5 87.8L379.0 87.1L379.4 86.6L379.8 85.9L380.0 85.2L380.4 84.5L381.0 84.0L381.5 83.5L382.1 83.0L382.5 82.4L382.8 81.7L383.2 81.1L383.8 80.6L384.3 80.0L384.6 79.3L385.1 78.8L385.7 78.3L386.1 77.7L386.4 77.0L386.9 76.4L387.5 76.0L388.1 75.5L388.4 74.9L388.8 74.2L389.1 73.6L389.6 73.0L390.2 72.5L390.6 72.0L391.0 71.4L391.6 70.9L392.1 70.4L392.5 69.7L392.8 69.1L393.4 68.7L393.9 68.2L394.3 67.6L394.6 67.0L395.2 66.5L395.7 66.0L396.1 65.4L396.6 64.9L397.1 64.4L397.6 63.9L398.0 63.4L398.3 62.7L398.6 62.0L399.1 61.6L399.7 61.1L400.0 60.5L400.4 59.9L400.8 59.4L401.2 58.8L401.8 58.4L402.2 57.9L402.6 57.2L402.8 56.5L403.1 55.9L403.6 55.3L404.2 54.9L404.8 54.5L405.3 54.1L405.8 53.5L406.1 52.9L406.5 52.3L407.1 51.9L407.6 51.4L408.0 50.8L408.4 50.3L408.9 49.7L409.4 49.2L409.9 48.7L410.3 48.0L410.7 47.5L411.4 47.0L411.8 46.4L412.3 45.8L412.8 45.3L413.2 44.7L413.7 44.1L414.2 43.5L414.7 43.0L415.2 42.5L415.6 41.9L415.9 41.2L416.2 40.5L416.6 39.9L417.1 39.4L417.7 39.0L418.1 38.3L418.5 37.7L418.9 37.2L419.2 36.5L419.6 35.9L420.1 35.5L420.5 34.9L420.9 34.4L421.5 34.0L422.1 33.7L422.5 33.2L422.8 32.7L423.1 32.1L423.5 31.6L424.0 31.3L424.5 30.8L424.8 30.3L425.3 29.9L425.7 29.5L426.1 29.0L426.5 28.5L426.9 28.0L427.4 27.7L428.0 27.4L428.5 27.0L428.9 26.6L429.4 26.1L429.9 25.8L430.4 25.5L430.8 25.0L431.4 24.7L431.8 24.3L428.4 20.6L428.0 21.1L427.6 21.6L427.0 21.8L426.3 22.0L425.8 22.4L425.5 23.0L425.1 23.5L424.7 23.9L424.2 24.3L423.7 24.7L423.4 25.2L422.9 25.7L422.3 25.9L421.8 26.3L421.6 27.0L421.2 27.5L420.6 27.8L420.1 28.3L419.6 28.7L419.2 29.2L418.8 29.8L418.3 30.2L417.7 30.7L417.2 31.1L416.7 31.6L416.3 32.2L415.9 32.9L415.4 33.4L415.0 34.0L414.5 34.6L414.1 35.2L413.7 35.8L413.2 36.3L412.9 37.0L412.4 37.6L411.7 37.9L411.1 38.3L410.7 39.0L410.4 39.7L409.9 40.2L409.3 40.7L408.9 41.4L408.6 42.1L408.1 42.6L407.6 43.2L407.2 43.8L406.8 44.3L406.2 44.8L405.9 45.4L405.6 46.1L405.2 46.7L404.8 47.3L404.4 47.8L404.0 48.4L403.4 48.8L403.1 49.4L402.6 50.0L402.0 50.4L401.6 50.9L401.2 51.5L400.7 52.0L400.2 52.5L399.8 53.1L399.4 53.6L399.0 54.2L398.4 54.6L397.9 55.1L397.7 55.8L397.3 56.4L396.7 56.8L396.5 57.5L396.2 58.2L395.6 58.6L395.2 59.1L394.8 59.7L394.1 60.1L393.4 60.4L392.9 60.9L392.3 61.4L392.0 62.0L391.7 62.7L391.2 63.3L390.6 63.7L390.1 64.2L389.7 64.8L389.3 65.4L388.8 65.9L388.4 66.5L387.9 67.0L387.5 67.6L387.1 68.2L386.4 68.7L385.9 69.1L385.5 69.8L385.1 70.4L384.7 71.0L384.2 71.6L383.7 72.1L383.4 72.8L383.3 73.6L382.8 74.2L382.1 74.6L381.7 75.2L381.4 75.9L381.0 76.6L380.6 77.2L380.0 77.7L379.4 78.2L378.8 78.7L378.4 79.2L378.0 79.9L377.6 80.5L377.1 81.1L376.8 81.8L376.4 82.4L375.9 82.9L375.4 83.5L375.1 84.2L374.6 84.8L374.1 85.4L373.6 85.9L373.1 86.5L372.5 87.0L372.0 87.6L371.6 88.2L371.2 88.8L370.8 89.5L370.4 90.1L370.0 90.8L369.5 91.4L369.1 92.0L368.7 92.6L368.2 93.2L367.8 93.8L367.3 94.3L366.8 94.9L366.3 95.5L365.8 96.0L365.3 96.6L365.0 97.3L364.6 98.0L364.0 98.4L363.5 99.0L363.1 99.7L362.6 100.3L362.2 101.0L361.8 101.6L361.2 102.1L360.8 102.8L360.5 103.6L360.1 104.2L359.6 104.8L359.2 105.5L358.8 106.2L358.3 106.8L357.8 107.4L357.4 108.1L356.9 108.7L356.3 109.2L355.7 109.8L355.3 110.5L355.0 111.2L354.5 111.8L354.1 112.5L353.8 113.3L353.4 113.9L352.9 114.6L352.3 115.1L351.8 115.7L351.4 116.5L351.0 117.1L350.5 117.7L350.1 118.4L349.5 119.0L349.1 119.6L348.7 120.3L348.4 121.1L347.9 121.7L347.2 122.2L346.8 122.8L346.5 123.6L346.2 124.3L345.6 124.9L345.0 125.4L344.6 126.1L344.3 126.8L343.9 127.5L343.4 128.1L343.0 128.8L342.4 129.3L341.8 129.8L341.3 130.5L341.0 131.2L340.6 131.9L340.2 132.5L339.7 133.1L339.2 133.7L338.8 134.3L338.3 134.9L337.8 135.5L337.4 136.1L337.1 136.8L336.7 137.5L336.1 138.0L335.6 138.6L335.2 139.2L334.8 139.8L334.3 140.4L334.0 141.1L333.5 141.6L332.9 142.1L332.5 142.7L332.1 143.3L331.5 143.8L331.1 144.4L330.8 145.0L330.4 145.6L330.0 146.2L329.5 146.7L329.0 147.2L328.6 147.8L328.1 148.4L327.7 148.9L327.1 149.4L326.7 150.0L326.4 150.7L325.9 151.3L325.4 151.8L325.0 152.4L324.6 153.1L324.2 153.7L323.8 154.3L323.3 154.9L322.8 155.4L322.4 156.1L321.9 156.6L321.5 157.3L321.1 157.9L320.6 158.4L320.1 159.0L319.7 159.5L319.3 160.2L318.8 160.7L318.3 161.2L317.8 161.8L317.4 162.4L316.9 163.0L316.5 163.6L316.0 164.1L315.6 164.7L315.1 165.3L314.6 165.8L314.1 166.3L313.7 166.9L313.3 167.6L312.9 168.2L312.5 168.8L311.9 169.2L311.4 169.8L311.0 170.4L310.7 171.1L310.2 171.6L309.7 172.1L309.3 172.7L308.9 173.3L308.4 173.9L308.0 174.5L307.5 175.0L307.0 175.5L306.5 176.0L306.1 176.6L305.6 177.1L305.2 177.7L304.7 178.3L304.3 178.8L303.9 179.4L303.5 180.0L303.0 180.5L302.6 181.0L302.1 181.6L301.7 182.1L301.3 182.7L300.8 183.2L300.4 183.7L299.9 184.3L299.5 184.8L299.0 185.3L298.4 185.7L298.0 186.2L297.5 186.8L297.1 187.3L296.7 187.8L296.2 188.3L295.7 188.9L295.3 189.4L294.9 190.0L294.4 190.5L294.0 191.0L293.5 191.5L293.1 192.1L292.7 192.6L292.2 193.1L291.7 193.6L291.4 194.2L290.9 194.7L290.5 195.2L290.0 195.7L289.5 196.2L289.1 196.7L288.6 197.3L288.2 197.8L287.8 198.4L287.3 198.9L286.8 199.3L286.4 199.9L285.9 200.4L285.5 200.9L285.1 201.5L284.7 202.0L284.2 202.5L283.8 203.0L283.3 203.4L282.8 203.9L282.4 204.4L282.0 204.9L281.5 205.3L281.0 205.7L280.5 206.2L280.1 206.7L279.7 207.2L279.3 207.6L278.8 208.1L278.4 208.5L277.9 209.0L277.5 209.4L277.1 209.8L276.7 210.2L276.2 210.6L275.8 211.0L275.4 211.4L274.9 211.8L274.5 212.2L274.1 212.7L273.7 213.0L273.2 213.4L272.7 213.8L272.3 214.1L271.8 214.5L271.4 214.9L271.0 215.3L270.5 215.7L270.0 216.1L269.6 216.4L269.1 216.7L268.6 217.1L268.2 217.5L267.8 217.9L267.3 218.3L266.9 218.6L266.4 219.0L266.0 219.4L265.5 219.8L265.1 220.1L264.6 220.5L264.1 220.9L263.7 221.2L263.2 221.6L262.8 222.0L262.3 222.4L261.9 222.8L261.4 223.1L261.0 223.5L260.5 223.9L260.1 224.3L259.6 224.8L259.2 225.2L258.8 225.6L258.3 225.9L257.9 226.3L257.5 226.7L257.0 227.1L256.6 227.5L256.1 227.8L255.7 228.2L255.3 228.5L254.8 228.9L254.4 229.2L253.9 229.6L253.5 229.9L253.1 230.3L252.6 230.6L252.2 231.0L251.7 231.3L251.3 231.6L250.9 232.0L250.4 232.3L250.0 232.7L249.5 233.0L249.1 233.3L248.6 233.7L248.2 234.0L247.7 234.3L247.3 234.6L246.9 235.0L246.4 235.3L246.0 235.7L245.5 236.0Z" fill="#a52a2a"/>
<circle cx="430.0" cy="22.3" r="2.30" fill="#a52a2a"/>
<circle cx="54.40" cy="283.25" r="1.55" stroke="#a52a2a" stroke-width="1.1" fill="none"/>
<circle cx="85.80" cy="280.81" r="1.55" stroke="#a52a2a" stroke-width="1.1" fill="none"/>
<circle cx="104.17" cy="279.81" r="1.55" stroke="#a52a2a" stroke-width="1.1" fill="none"/>
<circle cx="117.20" cy="278.91" r="1.55" stroke="#a52a2a" stroke-width="1.1" fill="none"/>
<circle cx="127.31" cy="278.02" r="1.55" stroke="#a52a2a" stroke-width="1.1" fill="none"/>
<circle cx="135.56" cy="277.02" r="1.55" stroke="#a52a2a" stroke-width="1.1" fill="none"/>
<circle cx="142.55" cy="276.12" r="1.55" stroke="#a52a2a" stroke-width="1.1" fill="none"/>
<circle cx="148.59" cy="275.14" r="1.55" stroke="#a52a2a" stroke-width="1.1" fill="none"/>
<circle cx="153.93" cy="274.19" r="1.55" stroke="#a52a2a" stroke-width="1.1" fill="none"/>
<circle cx="158.70" cy="273.25" r="1.55" stroke="#a52a2a" stroke-width="1.1" fill="none"/>
<circle cx="163.02" cy="272.23" r="1.55" stroke="#a52a2a" stroke-width="1.1" fill="none"/>
<circle cx="166.96" cy="271.18" r="1.55" stroke="#a52a2a" stroke-width="1.1" fill="none"/>
<circle cx="170.59" cy="270.18" r="1.55" stroke="#a52a2a" stroke-width="1.1" fill="none"/>
<circle cx="173.94" cy="269.26" r="1.55" stroke="#a52a2a" stroke-width="1.1" fill="none"/>
<circle cx="177.07" cy="268.39" r="1.55" stroke="#a52a2a" stroke-width="1.1" fill="none"/>
<circle cx="179.99" cy="267.58" r="1.55" stroke="#a52a2a" stroke-width="1.1" fill="none"/>
<circle cx="182.74" cy="266.84" r="1.55" stroke="#a52a2a" stroke-width="1.1" fill="none"/>
<circle cx="185.33" cy="266.19" r="1.55" stroke="#a52a2a" stroke-width="1.1" fill="none"/>
<circle cx="187.78" cy="265.59" r="1.55" stroke="#a52a2a" stroke-width="1.1" fill="none"/>
<circle cx="190.10" cy="264.97" r="1.55" stroke="#a52a2a" stroke-width="1.1" fill="none"/>
<circle cx="192.31" cy="264.34" r="1.55" stroke="#a52a2a" stroke-width="1.1" fill="none"/>
<circle cx="194.42" cy="263.70" r="1.55" stroke="#a52a2a" stroke-width="1.1" fill="none"/>
<circle cx="196.43" cy="263.07" r="1.55" stroke="#a52a2a" stroke-width="1.1" fill="none"/>
<circle cx="198.36" cy="262.45" r="1.55" stroke="#a52a2a" stroke-width="1.1" fill="none"/>
<circle cx="200.21" cy="261.84" r="1.55" stroke="#a52a2a" stroke-width="1.1" fill="none"/>
<circle cx="201.98" cy="261.24" r="1.55" stroke="#a52a2a" stroke-width="1.1" fill="none"/>
<circle cx="203.69" cy="260.66" r="1.55" stroke="#a52a2a" stroke-width="1.1" fill="none"/>
<circle cx="205.34" cy="260.10" r="1.55" stroke="#a52a2a" stroke-width="1.1" fill="none"/>
<circle cx="206.93" cy="259.55" r="1.55" stroke="#a52a2a" stroke-width="1.1" fill="none"/>
<circle cx="208.47" cy="259.01" r="1.55" stroke="#a52a2a" stroke-width="1.1" fill="none"/>
<circle cx="209.95" cy="258.47" r="1.55" stroke="#a52a2a" stroke-width="1.1" fill="none"/>
<circle cx="211.39" cy="257.93" r="1.55" stroke="#a52a2a" stroke-width="1.1" fill="none"/>
<circle cx="212.78" cy="257.40" r="1.55" stroke="#a52a2a" stroke-width="1.1" fill="none"/>
<circle cx="214.14" cy="256.86" r="1.55" stroke="#a52a2a" stroke-width="1.1" fill="none"/>
<circle cx="215.45" cy="256.32" r="1.55" stroke="#a52a2a" stroke-width="1.1" fill="none"/>
<circle cx="216.72" cy="255.78" r="1.55" stroke="#a52a2a" stroke-width="1.1" fill="none"/>
<circle cx="217.97" cy="255.23" r="1.55" stroke="#a52a2a" stroke-width="1.1" fill="none"/>
<circle cx="219.17" cy="254.68" r="1.55" stroke="#a52a2a" stroke-width="1.1" fill="none"/>
<circle cx="220.35" cy="254.13" r="1.55" stroke="#a52a2a" stroke-width="1.1" fill="none"/>
<circle cx="221.50" cy="253.57" r="1.55" stroke="#a52a2a" stroke-width="1.1" fill="none"/>
<circle cx="222.62" cy="253.02" r="1.55" stroke="#a52a2a" stroke-width="1.1" fill="none"/>
<circle cx="223.71" cy="252.47" r="1.55" stroke="#a52a2a" stroke-width="1.1" fill="none"/>
<circle cx="224.77" cy="251.92" r="1.55" stroke="#a52a2a" stroke-width="1.1" fill="none"/>
<circle cx="225.81" cy="251.37" r="1.55" stroke="#a52a2a" stroke-width="1.1" fill="none"/>
<circle cx="226.83" cy="250.82" r="1.55" stroke="#a52a2a" stroke-width="1.1" fill="none"/>
<circle cx="227.83" cy="250.27" r="1.55" stroke="#a52a2a" stroke-width="1.1" fill="none"/>
<circle cx="228.80" cy="249.72" r="1.55" stroke="#a52a2a" stroke-width="1.1" fill="none"/>
<circle cx="229.76" cy="249.16" r="1.55" stroke="#a52a2a" stroke-width="1.1" fill="none"/>
<circle cx="230.69" cy="248.60" r="1.55" stroke="#a52a2a" stroke-width="1.1" fill="none"/>
<circle cx="231.61" cy="248.05" r="1.55" stroke="#a52a2a" stroke-width="1.1" fill="none"/>
<circle cx="232.50" cy="247.50" r="1.55" stroke="#a52a2a" stroke-width="1.1" fill="none"/>
<circle cx="233.38" cy="246.95" r="1.55" stroke="#a52a2a" stroke-width="1.1" fill="none"/>
<circle cx="234.24" cy="246.40" r="1.55" stroke="#a52a2a" stroke-width="1.1" fill="none"/>
<circle cx="235.09" cy="245.86" r="1.55" stroke="#a52a2a" stroke-width="1.1" fill="none"/>
<circle cx="235.92" cy="245.32" r="1.55" stroke="#a52a2a" stroke-width="1.1" fill="none"/>
<circle cx="236.74" cy="244.80" r="1.55" stroke="#a52a2a" stroke-width="1.1" fill="none"/>
<circle cx="237.54" cy="244.27" r="1.55" stroke="#a52a2a" stroke-width="1.1" fill="none"/>
<circle cx="238.33" cy="243.76" r="1.55" stroke="#a52a2a" stroke-width="1.1" fill="none"/>
<circle cx="239.10" cy="243.24" r="1.55" stroke="#a52a2a" stroke-width="1.1" fill="none"/>
<circle cx="239.86" cy="242.73" r="1.55" stroke="#a52a2a" stroke-width="1.1" fill="none"/>
<circle cx="240.61" cy="242.22" r="1.55" stroke="#a52a2a" stroke-width="1.1" fill="none"/>
<circle cx="241.35" cy="241.71" r="1.55" stroke="#a52a2a" stroke-width="1.1" fill="none"/>
<circle cx="242.07" cy="241.21" r="1.55" stroke="#a52a2a" stroke-width="1.1" fill="none"/>
<circle cx="242.79" cy="240.71" r="1.55" stroke="#a52a2a" stroke-width="1.1" fill="none"/>
<circle cx="243.49" cy="240.21" r="1.55" stroke="#a52a2a" stroke-width="1.1" fill="none"/>
<circle cx="244.18" cy="239.72" r="1.55" stroke="#a52a2a" stroke-width="1.1" fill="none"/>
<circle cx="244.86" cy="239.23" r="1.55" stroke="#a52a2a" stroke-width="1.1" fill="none"/>
<circle cx="245.53" cy="238.75" r="1.55" stroke="#a52a2a" stroke-width="1.1" fill="none"/>
<circle cx="246.19" cy="238.27" r="1.55" stroke="#a52a2a" stroke-width="1.1" fill="none"/>
<circle cx="246.85" cy="237.80" r="1.55" stroke="#a52a2a" stroke-width="1.1" fill="none"/>
</g>
<path d="M218.6 294.5L434.4 11.1" stroke="#000" stroke-width="1.2" stroke-dasharray="2.4 1.2" fill="none"/>
<text x="128.2" y="22.20" text-anchor="end" class="s">simulation <tspan class="g">Γ</tspan>=3</text>
<path d="M146.40 19.10H150.10M148.25 17.25V20.95" stroke="#ff0000" stroke-width="1" fill="none"/>
<text x="130.4" y="31.20" text-anchor="end" class="s">simulation <tspan class="g">Γ</tspan>=10</text>
<path d="M146.65 26.50L149.85 29.70M146.65 29.70L149.85 26.50" stroke="#ffa500" stroke-width="1" fill="none"/>
<text x="130.4" y="40.20" text-anchor="end" class="s">simulation <tspan class="g">Γ</tspan>=11</text>
<path d="M146.50 37.10H150.00M148.25 35.35V38.85M146.75 35.60L149.75 38.60M146.75 38.60L149.75 35.60" stroke="#0000ff" stroke-width="1" fill="none"/>
<text x="130.4" y="49.20" text-anchor="end" class="s">simulation <tspan class="g">Γ</tspan>=12</text>
<rect x="146.75" y="44.60" width="3.00" height="3.00" stroke="#a020f0" stroke-width="0.9" fill="none"/>
<text x="130.4" y="58.20" text-anchor="end" class="s">simulation <tspan class="g">Γ</tspan>=15</text>
<rect x="146.55" y="53.40" width="3.40" height="3.40" fill="#00ff00"/>
<text x="130.4" y="67.20" text-anchor="end" class="s">simulation <tspan class="g">Γ</tspan>=40</text>
<circle cx="148.25" cy="64.10" r="1.55" stroke="#a52a2a" stroke-width="1.1" fill="none"/>
<text x="130.4" y="76.20" text-anchor="end" class="s">slope = +0.645</text>
<path d="M135.9 73.40H160.9" stroke="#000" stroke-width="1.2" stroke-dasharray="2.4 1.2" fill="none"/>
<text x="85.80" y="307.80" text-anchor="middle" class="s" style="font-size:9.3px">10<tspan dy="-3.7" style="font-size:7.6px">-3</tspan></text>
<text x="190.10" y="307.80" text-anchor="middle" class="s" style="font-size:9.3px">10<tspan dy="-3.7" style="font-size:7.6px">-2</tspan></text>
<text x="294.40" y="307.80" text-anchor="middle" class="s" style="font-size:9.3px">10<tspan dy="-3.7" style="font-size:7.6px">-1</tspan></text>
<text x="398.70" y="307.80" text-anchor="middle" class="s" style="font-size:9.3px">10<tspan dy="-3.7" style="font-size:7.6px">0</tspan></text>
<text x="38.30" y="289.00" text-anchor="end" class="s" style="font-size:9.3px">10<tspan dy="-3.7" style="font-size:7.6px">0</tspan></text>
<text x="38.30" y="78.20" text-anchor="end" class="s" style="font-size:9.3px">10<tspan dy="-3.7" style="font-size:7.6px">1</tspan></text>
<text x="246.7" y="322" text-anchor="middle" class="t">time [s]</text>
<text transform="translate(23.7 153.1) rotate(-90)" text-anchor="middle" class="t">mean aggregate size, <tspan>n</tspan></text>
<path d="M14.2 95.3V100.3" stroke="#000" stroke-width="0.7"/>
</svg>
</body></html>
